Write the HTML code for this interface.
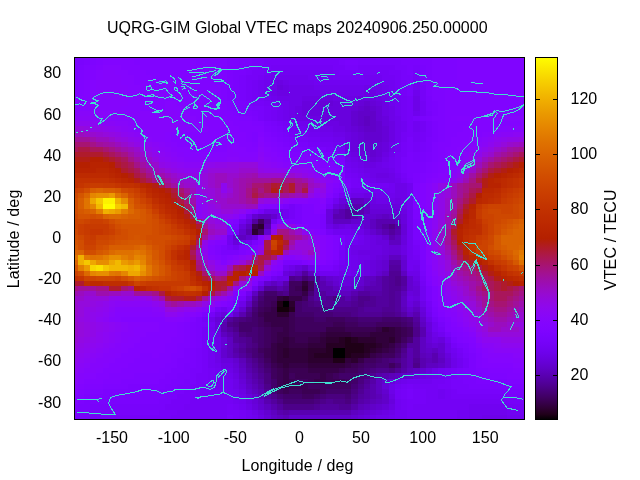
<!DOCTYPE html><html><head><meta charset="utf-8"><style>html,body{margin:0;padding:0;background:#fff;width:640px;height:480px;overflow:hidden}svg{display:block;position:absolute;left:0;top:0}</style></head><body><svg xmlns="http://www.w3.org/2000/svg" width="640" height="480" viewBox="0 0 640 480">
<g shape-rendering="crispEdges"><path fill="#7a03fd" d="M75 58h9v2h-9zM239 58h13v2h-13zM395 58h6v2h-6zM413 58h7v2h-7zM75 60h9v5h-9zM239 60h13v5h-13zM345 60h13v5h-13zM401 60h19v5h-19zM75 65h3v5h-3zM239 65h7v5h-7zM407 65h6v5h-6zM420 65h6v5h-6zM233 70h13v5h-13zM407 70h6v5h-6zM420 70h6v5h-6zM233 75h6v5h-6zM420 75h6v5h-6zM233 80h6v5h-6zM233 85h6v5h-6zM233 90h6v6h-6zM233 96h6v5h-6zM426 96h6v5h-6zM239 101h7v5h-7zM426 101h6v5h-6zM239 106h13v5h-13zM426 106h6v5h-6zM252 111h6v5h-6zM420 116h6v5h-6zM264 121h7v5h-7zM271 126h6v6h-6zM277 132h6v5h-6zM283 137h6v5h-6zM426 137h6v5h-6zM289 142h6v5h-6zM426 142h6v5h-6zM302 147h12v5h-12zM426 147h6v5h-6zM320 152h13v5h-13zM407 152h6v5h-6zM420 152h6v5h-6zM339 157h6v5h-6zM407 157h6v5h-6zM420 157h6v5h-6zM407 162h13v6h-13zM407 168h13v5h-13zM407 173h6v5h-6zM345 183h6v5h-6zM339 188h6v5h-6zM333 193h6v5h-6zM326 198h7v6h-7zM283 204h6v5h-6zM295 204h7v5h-7zM295 209h7v5h-7zM295 214h7v5h-7zM320 214h6v5h-6zM283 219h19v5h-19zM320 219h6v5h-6zM413 219h7v5h-7zM233 224h6v5h-6zM320 224h6v5h-6zM413 224h7v5h-7zM413 229h7v6h-7zM339 235h6v5h-6zM413 235h7v5h-7zM252 240h6v5h-6zM221 245h6v5h-6zM239 245h7v5h-7zM221 250h18v5h-18zM283 260h19v5h-19zM333 260h6v5h-6zM420 260h6v5h-6zM320 265h13v6h-13zM420 265h6v6h-6zM277 271h6v5h-6zM264 276h7v5h-7zM426 286h6v5h-6zM426 291h6v5h-6zM426 296h6v5h-6zM432 312h6v5h-6zM196 317h6v5h-6zM196 322h6v5h-6zM196 327h6v5h-6zM196 332h6v5h-6zM196 337h6v6h-6zM451 337h6v6h-6zM196 343h6v5h-6zM457 343h6v5h-6zM190 348h6v5h-6zM463 348h6v5h-6zM190 353h6v5h-6zM190 358h6v5h-6zM184 363h12v5h-12zM184 368h6v5h-6zM463 368h6v5h-6zM177 373h13v6h-13zM463 373h6v6h-6zM171 379h13v5h-13zM463 379h13v5h-13zM165 384h12v5h-12zM469 384h38v5h-38zM159 389h12v5h-12zM507 389h17v5h-17zM109 394h56v5h-56zM84 399h75v5h-75zM78 404h12v6h-12zM75 410h3v5h-3z"/>
<path fill="#7c03fe" d="M84 58h12v2h-12zM227 58h12v2h-12zM407 58h6v2h-6zM420 58h12v2h-12zM84 60h6v5h-6zM227 60h12v5h-12zM420 60h12v5h-12zM78 65h6v5h-6zM227 65h12v5h-12zM426 65h6v5h-6zM75 70h3v5h-3zM227 70h6v5h-6zM426 70h6v5h-6zM75 75h3v5h-3zM227 75h6v5h-6zM426 75h6v5h-6zM227 80h6v5h-6zM426 80h6v5h-6zM227 85h6v5h-6zM426 85h6v5h-6zM227 90h6v6h-6zM426 90h6v6h-6zM227 96h6v5h-6zM233 101h6v5h-6zM432 101h6v5h-6zM233 106h6v5h-6zM432 106h6v5h-6zM239 111h13v5h-13zM432 111h6v5h-6zM252 116h6v5h-6zM426 116h6v5h-6zM432 121h6v5h-6zM264 126h7v6h-7zM432 126h6v6h-6zM271 132h6v5h-6zM432 132h6v5h-6zM277 137h6v5h-6zM432 137h6v5h-6zM283 142h6v5h-6zM289 147h13v5h-13zM308 152h12v5h-12zM426 152h6v5h-6zM326 157h13v5h-13zM426 157h6v5h-6zM339 162h6v6h-6zM420 162h6v6h-6zM420 168h6v5h-6zM413 173h7v5h-7zM413 178h7v5h-7zM413 209h7v5h-7zM413 214h7v5h-7zM420 240h6v5h-6zM246 245h6v5h-6zM420 245h6v5h-6zM420 250h6v5h-6zM420 255h6v5h-6zM432 307h6v5h-6zM202 312h6v5h-6zM438 317h7v5h-7zM190 322h6v5h-6zM190 327h6v5h-6zM190 332h6v5h-6zM190 337h6v6h-6zM190 343h6v5h-6zM463 343h6v5h-6zM184 348h6v5h-6zM184 353h6v5h-6zM469 353h7v5h-7zM177 358h13v5h-13zM469 358h7v5h-7zM177 363h7v5h-7zM469 363h7v5h-7zM171 368h13v5h-13zM469 368h7v5h-7zM165 373h12v6h-12zM469 373h13v6h-13zM159 379h12v5h-12zM476 379h31v5h-31zM128 384h37v5h-37zM507 384h17v5h-17zM103 389h56v5h-56zM84 394h25v5h-25zM78 399h6v5h-6zM75 404h3v6h-3z"/>
<path fill="#7e04ff" d="M96 58h13v2h-13zM190 58h37v2h-37zM432 58h25v2h-25zM90 60h6v5h-6zM196 60h31v5h-31zM432 60h25v5h-25zM84 65h6v5h-6zM202 65h25v5h-25zM432 65h25v5h-25zM78 70h6v5h-6zM208 70h19v5h-19zM432 70h25v5h-25zM78 75h6v5h-6zM208 75h19v5h-19zM432 75h25v5h-25zM75 80h3v5h-3zM215 80h12v5h-12zM432 80h19v5h-19zM75 85h3v5h-3zM221 85h6v5h-6zM432 85h19v5h-19zM221 90h6v6h-6zM432 90h13v6h-13zM221 96h6v5h-6zM432 96h13v5h-13zM227 101h6v5h-6zM438 101h7v5h-7zM227 106h6v5h-6zM438 106h7v5h-7zM233 111h6v5h-6zM438 111h7v5h-7zM239 116h13v5h-13zM432 116h13v5h-13zM252 121h12v5h-12zM438 121h7v5h-7zM438 126h7v6h-7zM252 132h6v5h-6zM264 132h7v5h-7zM438 132h7v5h-7zM252 137h6v5h-6zM271 137h6v5h-6zM438 137h7v5h-7zM277 142h6v5h-6zM432 142h6v5h-6zM283 147h6v5h-6zM432 147h6v5h-6zM289 152h19v5h-19zM432 152h6v5h-6zM314 157h12v5h-12zM432 157h6v5h-6zM333 162h6v6h-6zM426 162h6v6h-6zM339 168h6v5h-6zM426 168h6v5h-6zM420 173h6v5h-6zM420 178h6v5h-6zM339 183h6v5h-6zM413 183h7v5h-7zM333 188h6v5h-6zM413 188h7v5h-7zM413 193h7v5h-7zM413 198h7v6h-7zM277 204h6v5h-6zM302 204h12v5h-12zM413 204h7v5h-7zM252 209h6v5h-6zM302 209h12v5h-12zM320 209h6v5h-6zM302 214h18v5h-18zM233 219h6v5h-6zM277 219h6v5h-6zM302 219h18v5h-18zM420 219h6v5h-6zM227 224h6v5h-6zM308 224h12v5h-12zM420 224h6v5h-6zM227 229h6v6h-6zM320 229h6v6h-6zM420 229h6v6h-6zM333 235h6v5h-6zM420 235h6v5h-6zM333 240h6v5h-6zM215 245h6v5h-6zM333 245h6v5h-6zM215 250h6v5h-6zM239 250h7v5h-7zM333 250h6v5h-6zM221 255h6v5h-6zM333 255h6v5h-6zM302 260h6v5h-6zM326 260h7v5h-7zM271 271h6v5h-6zM258 276h6v5h-6zM426 281h6v5h-6zM239 291h7v5h-7zM233 296h6v5h-6zM227 301h6v6h-6zM432 301h6v6h-6zM190 317h6v5h-6zM184 322h6v5h-6zM445 322h6v5h-6zM184 327h6v5h-6zM445 327h6v5h-6zM184 332h6v5h-6zM451 332h6v5h-6zM184 337h6v6h-6zM457 337h6v6h-6zM177 343h13v5h-13zM177 348h7v5h-7zM469 348h7v5h-7zM171 353h13v5h-13zM171 358h6v5h-6zM165 363h12v5h-12zM159 368h12v5h-12zM476 368h12v5h-12zM134 373h31v6h-31zM482 373h25v6h-25zM121 379h38v5h-38zM507 379h17v5h-17zM103 384h25v5h-25zM84 389h19v5h-19zM78 394h6v5h-6zM75 399h3v5h-3z"/>
<path fill="#8004ff" d="M109 58h81v2h-81zM457 58h67v2h-67zM96 60h7v5h-7zM134 60h62v5h-62zM457 60h67v5h-67zM90 65h6v5h-6zM140 65h62v5h-62zM457 65h67v5h-67zM84 70h6v5h-6zM146 70h62v5h-62zM457 70h67v5h-67zM84 75h6v5h-6zM152 75h56v5h-56zM457 75h67v5h-67zM78 80h6v5h-6zM159 80h56v5h-56zM451 80h73v5h-73zM78 85h6v5h-6zM159 85h62v5h-62zM451 85h73v5h-73zM75 90h9v6h-9zM184 90h37v6h-37zM445 90h79v6h-79zM75 96h3v5h-3zM196 96h25v5h-25zM445 96h79v5h-79zM202 101h25v5h-25zM445 101h79v5h-79zM208 106h19v5h-19zM445 106h79v5h-79zM215 111h18v5h-18zM445 111h79v5h-79zM227 116h12v5h-12zM445 116h6v5h-6zM233 121h19v5h-19zM445 121h24v5h-24zM239 126h25v6h-25zM445 126h18v6h-18zM246 132h6v5h-6zM445 132h12v5h-12zM246 137h6v5h-6zM264 137h7v5h-7zM445 137h6v5h-6zM252 142h6v5h-6zM271 142h6v5h-6zM438 142h13v5h-13zM277 147h6v5h-6zM438 147h7v5h-7zM283 152h6v5h-6zM438 152h7v5h-7zM302 157h12v5h-12zM438 157h7v5h-7zM320 162h13v6h-13zM432 162h6v6h-6zM333 168h6v5h-6zM432 168h6v5h-6zM339 173h6v5h-6zM426 173h6v5h-6zM420 214h6v5h-6zM426 276h6v5h-6zM252 281h6v5h-6zM432 286h6v5h-6zM432 291h6v5h-6zM432 296h6v5h-6zM438 312h7v5h-7zM445 317h6v5h-6zM177 322h7v5h-7zM177 327h7v5h-7zM451 327h6v5h-6zM177 332h7v5h-7zM457 332h6v5h-6zM171 337h13v6h-13zM463 337h6v6h-6zM165 343h12v5h-12zM469 343h7v5h-7zM165 348h12v5h-12zM140 353h12v5h-12zM159 353h12v5h-12zM476 353h6v5h-6zM134 358h37v5h-37zM476 358h6v5h-6zM128 363h37v5h-37zM476 363h6v5h-6zM121 368h38v5h-38zM488 368h25v5h-25zM109 373h25v6h-25zM507 373h17v6h-17zM103 379h18v5h-18zM84 384h19v5h-19zM78 389h6v5h-6zM75 394h3v5h-3z"/>
<path fill="#7803fb" d="M252 58h12v2h-12zM382 58h7v2h-7zM252 60h12v5h-12zM339 60h6v5h-6zM358 60h43v5h-43zM246 65h12v5h-12zM345 65h13v5h-13zM395 65h12v5h-12zM413 65h7v5h-7zM246 70h6v5h-6zM401 70h6v5h-6zM239 75h7v5h-7zM401 75h12v5h-12zM239 80h7v5h-7zM407 80h6v5h-6zM420 80h6v5h-6zM239 85h7v5h-7zM407 85h6v5h-6zM239 90h7v6h-7zM407 90h6v6h-6zM239 96h7v5h-7zM246 101h6v5h-6zM252 106h12v5h-12zM258 111h6v5h-6zM426 111h6v5h-6zM258 116h6v5h-6zM413 116h7v5h-7zM271 121h6v5h-6zM426 121h6v5h-6zM277 126h6v6h-6zM426 126h6v6h-6zM283 132h6v5h-6zM426 132h6v5h-6zM289 137h6v5h-6zM407 137h6v5h-6zM295 142h13v5h-13zM407 142h6v5h-6zM420 142h6v5h-6zM314 147h12v5h-12zM407 147h6v5h-6zM420 147h6v5h-6zM333 152h12v5h-12zM413 152h7v5h-7zM401 157h6v5h-6zM413 157h7v5h-7zM401 162h6v6h-6zM401 168h6v5h-6zM345 178h6v5h-6zM407 178h6v5h-6zM339 240h6v5h-6zM413 240h7v5h-7zM339 245h6v5h-6zM420 271h6v5h-6zM227 307h6v5h-6zM202 322h6v5h-6zM438 322h7v5h-7zM445 332h6v5h-6zM196 348h6v5h-6zM196 353h6v5h-6zM463 353h6v5h-6zM196 358h6v5h-6zM196 363h6v5h-6zM190 368h12v5h-12zM457 368h6v5h-6zM190 373h6v6h-6zM457 373h6v6h-6zM184 379h12v5h-12zM451 379h12v5h-12zM177 384h13v5h-13zM451 384h18v5h-18zM171 389h13v5h-13zM407 389h6v5h-6zM457 389h50v5h-50zM165 394h12v5h-12zM407 394h6v5h-6zM507 394h17v5h-17zM159 399h12v5h-12zM90 404h75v6h-75zM78 410h81v5h-81zM75 415h15v4h-15zM227 415h6v4h-6z"/>
<path fill="#7703f9" d="M264 58h7v2h-7zM376 58h6v2h-6z"/>
<path fill="#7602f8" d="M271 58h105v2h-105zM264 60h75v5h-75zM258 65h13v5h-13zM333 65h12v5h-12zM358 65h37v5h-37zM252 70h12v5h-12zM339 70h25v5h-25zM389 70h12v5h-12zM413 70h7v5h-7zM246 75h12v5h-12zM395 75h6v5h-6zM246 80h6v5h-6zM401 80h6v5h-6zM246 85h6v5h-6zM401 85h6v5h-6zM420 85h6v5h-6zM246 90h6v6h-6zM401 90h6v6h-6zM420 90h6v6h-6zM246 96h6v5h-6zM407 96h6v5h-6zM420 96h6v5h-6zM252 101h12v5h-12zM407 101h6v5h-6zM264 106h7v5h-7zM407 106h6v5h-6zM264 111h7v5h-7zM407 111h6v5h-6zM264 116h7v5h-7zM407 116h6v5h-6zM277 121h6v5h-6zM407 121h6v5h-6zM283 126h6v6h-6zM407 126h6v6h-6zM289 132h6v5h-6zM407 132h6v5h-6zM420 132h6v5h-6zM295 137h13v5h-13zM420 137h6v5h-6zM308 142h12v5h-12zM401 142h6v5h-6zM413 142h7v5h-7zM326 147h13v5h-13zM401 147h6v5h-6zM413 147h7v5h-7zM401 152h6v5h-6zM345 173h6v5h-6zM401 173h6v5h-6zM351 178h7v5h-7zM351 183h19v5h-19zM345 188h6v5h-6zM289 204h6v5h-6zM326 204h7v5h-7zM258 209h6v5h-6zM289 209h6v5h-6zM289 214h6v5h-6zM233 229h6v6h-6zM326 229h7v6h-7zM345 235h13v5h-13zM227 245h6v5h-6zM413 245h7v5h-7zM339 250h6v5h-6zM413 250h7v5h-7zM339 255h6v5h-6zM314 265h6v6h-6zM333 265h6v6h-6zM420 276h6v5h-6zM239 296h7v5h-7zM233 301h6v6h-6zM426 301h6v6h-6zM215 307h6v5h-6zM208 312h7v5h-7zM202 317h6v5h-6zM432 317h6v5h-6zM202 327h6v5h-6zM438 327h7v5h-7zM202 332h6v5h-6zM202 337h6v6h-6zM202 343h6v5h-6zM451 343h6v5h-6zM202 348h6v5h-6zM457 348h6v5h-6zM202 353h6v5h-6zM202 358h6v5h-6zM463 358h6v5h-6zM202 363h6v5h-6zM463 363h6v5h-6zM202 368h6v5h-6zM451 368h6v5h-6zM196 373h12v6h-12zM451 373h6v6h-6zM196 379h12v5h-12zM445 379h6v5h-6zM190 384h12v5h-12zM407 384h6v5h-6zM438 384h13v5h-13zM184 389h12v5h-12zM401 389h6v5h-6zM413 389h13v5h-13zM451 389h6v5h-6zM177 394h19v5h-19zM401 394h6v5h-6zM413 394h13v5h-13zM451 394h56v5h-56zM171 399h19v5h-19zM407 399h19v5h-19zM507 399h17v5h-17zM165 404h19v6h-19zM227 404h6v6h-6zM407 404h6v6h-6zM159 410h18v5h-18zM227 410h12v5h-12zM90 415h81v4h-81zM233 415h6v4h-6z"/>
<path fill="#7903fc" d="M389 58h6v2h-6z"/>
<path fill="#7b03fd" d="M401 58h6v2h-6z"/>
<path fill="#8204ff" d="M103 60h31v5h-31zM96 65h7v5h-7zM121 65h19v5h-19zM90 70h6v5h-6zM128 70h18v5h-18zM90 75h6v5h-6zM134 75h18v5h-18zM84 80h6v5h-6zM134 80h25v5h-25zM84 85h6v5h-6zM140 85h19v5h-19zM84 90h6v6h-6zM140 90h44v6h-44zM78 96h12v5h-12zM140 96h56v5h-56zM75 101h9v5h-9zM140 101h25v5h-25zM177 101h25v5h-25zM140 106h25v5h-25zM184 106h24v5h-24zM190 111h25v5h-25zM196 116h31v5h-31zM457 116h31v5h-31zM202 121h31v5h-31zM469 121h55v5h-55zM208 126h31v6h-31zM463 126h31v6h-31zM171 132h56v5h-56zM233 132h13v5h-13zM258 132h6v5h-6zM457 132h25v5h-25zM171 137h56v5h-56zM233 137h13v5h-13zM451 137h18v5h-18zM177 142h50v5h-50zM239 142h13v5h-13zM264 142h7v5h-7zM451 142h12v5h-12zM190 147h37v5h-37zM246 147h12v5h-12zM271 147h6v5h-6zM445 147h12v5h-12zM277 152h6v5h-6zM445 152h6v5h-6zM283 157h19v5h-19zM445 157h6v5h-6zM314 162h6v6h-6zM438 162h7v6h-7zM326 168h7v5h-7zM438 168h7v5h-7zM333 173h6v5h-6zM432 173h6v5h-6zM339 178h6v5h-6zM426 178h6v5h-6zM333 183h6v5h-6zM420 183h6v5h-6zM420 188h6v5h-6zM326 193h7v5h-7zM420 193h6v5h-6zM308 198h12v6h-12zM420 198h6v6h-6zM264 204h13v5h-13zM314 204h12v5h-12zM420 204h6v5h-6zM314 209h6v5h-6zM420 209h6v5h-6zM239 214h7v5h-7zM227 219h6v5h-6zM302 224h6v5h-6zM314 229h6v6h-6zM258 235h6v5h-6zM326 235h7v5h-7zM215 240h12v5h-12zM258 240h6v5h-6zM326 240h7v5h-7zM208 245h7v5h-7zM252 245h6v5h-6zM326 245h7v5h-7zM208 250h7v5h-7zM246 250h6v5h-6zM326 250h7v5h-7zM215 255h6v5h-6zM227 255h6v5h-6zM326 255h7v5h-7zM221 260h6v5h-6zM308 260h18v5h-18zM277 265h6v6h-6zM426 265h6v6h-6zM426 271h6v5h-6zM233 291h6v5h-6zM221 301h6v6h-6zM208 307h7v5h-7zM438 307h7v5h-7zM196 312h6v5h-6zM121 317h44v5h-44zM184 317h6v5h-6zM159 322h18v5h-18zM451 322h6v5h-6zM159 327h18v5h-18zM457 327h6v5h-6zM146 332h31v5h-31zM463 332h6v5h-6zM140 337h31v6h-31zM469 337h7v6h-7zM134 343h31v5h-31zM128 348h37v5h-37zM476 348h6v5h-6zM121 353h19v5h-19zM152 353h7v5h-7zM115 358h19v5h-19zM482 358h6v5h-6zM109 363h19v5h-19zM482 363h31v5h-31zM103 368h18v5h-18zM513 368h11v5h-11zM96 373h13v6h-13zM84 379h19v5h-19zM78 384h6v5h-6zM75 389h3v5h-3z"/>
<path fill="#8405fe" d="M103 65h18v5h-18zM96 70h7v5h-7zM115 70h13v5h-13zM96 75h7v5h-7zM121 75h13v5h-13zM90 80h6v5h-6zM121 80h13v5h-13zM90 85h6v5h-6zM128 85h12v5h-12zM90 90h6v6h-6zM128 90h12v6h-12zM90 96h6v5h-6zM128 96h12v5h-12zM84 101h12v5h-12zM128 101h12v5h-12zM165 101h12v5h-12zM75 106h15v5h-15zM121 106h19v5h-19zM165 106h19v5h-19zM177 111h13v5h-13zM184 116h12v5h-12zM190 121h12v5h-12zM190 126h18v6h-18zM494 126h13v6h-13zM165 132h6v5h-6zM227 132h6v5h-6zM482 132h6v5h-6zM165 137h6v5h-6zM227 137h6v5h-6zM258 137h6v5h-6zM469 137h7v5h-7zM171 142h6v5h-6zM227 142h12v5h-12zM463 142h6v5h-6zM177 147h13v5h-13zM233 147h13v5h-13zM264 147h7v5h-7zM457 147h6v5h-6zM184 152h43v5h-43zM239 152h19v5h-19zM271 152h6v5h-6zM451 152h6v5h-6zM277 157h6v5h-6zM451 157h6v5h-6zM308 162h6v6h-6zM445 162h6v6h-6zM320 168h6v5h-6zM445 168h6v5h-6zM438 173h7v5h-7zM432 178h6v5h-6zM426 260h6v5h-6zM438 301h7v6h-7zM115 312h37v5h-37zM445 312h6v5h-6zM115 317h6v5h-6zM177 317h7v5h-7zM451 317h6v5h-6zM140 322h19v5h-19zM134 327h25v5h-25zM134 332h12v5h-12zM128 337h12v6h-12zM121 343h13v5h-13zM121 348h7v5h-7zM115 353h6v5h-6zM482 353h6v5h-6zM109 358h6v5h-6zM488 358h25v5h-25zM103 363h6v5h-6zM513 363h11v5h-11zM96 368h7v5h-7zM84 373h12v6h-12zM78 379h6v5h-6z"/>
<path fill="#7402f5" d="M271 65h62v5h-62zM264 70h7v5h-7zM333 70h6v5h-6zM364 70h25v5h-25zM258 75h6v5h-6zM333 75h31v5h-31zM382 75h13v5h-13zM413 75h7v5h-7zM252 80h6v5h-6zM395 80h6v5h-6zM252 85h6v5h-6zM395 85h6v5h-6zM252 90h6v6h-6zM395 90h6v6h-6zM252 96h12v5h-12zM401 96h6v5h-6zM264 101h7v5h-7zM401 101h6v5h-6zM420 101h6v5h-6zM271 106h6v5h-6zM401 106h6v5h-6zM420 106h6v5h-6zM271 111h6v5h-6zM401 111h6v5h-6zM420 111h6v5h-6zM271 116h6v5h-6zM401 116h6v5h-6zM283 121h6v5h-6zM420 121h6v5h-6zM289 126h6v6h-6zM420 126h6v6h-6zM295 132h13v5h-13zM401 132h6v5h-6zM413 132h7v5h-7zM308 137h12v5h-12zM401 137h6v5h-6zM413 137h7v5h-7zM320 142h13v5h-13zM339 147h6v5h-6zM395 152h6v5h-6zM395 157h6v5h-6zM395 162h6v6h-6zM345 168h6v5h-6zM395 168h6v5h-6zM351 173h7v5h-7zM358 178h6v5h-6zM401 178h6v5h-6zM370 183h19v5h-19zM345 240h6v5h-6zM413 255h7v5h-7zM339 260h6v5h-6zM420 281h6v5h-6zM426 307h6v5h-6zM457 353h6v5h-6zM208 368h7v5h-7zM445 368h6v5h-6zM208 373h7v6h-7zM445 373h6v6h-6zM208 379h7v5h-7zM432 379h13v5h-13zM202 384h13v5h-13zM401 384h6v5h-6zM413 384h25v5h-25zM196 389h31v5h-31zM395 389h6v5h-6zM426 389h12v5h-12zM445 389h6v5h-6zM196 394h37v5h-37zM395 394h6v5h-6zM426 394h12v5h-12zM445 394h6v5h-6zM190 399h43v5h-43zM401 399h6v5h-6zM426 399h81v5h-81zM184 404h43v6h-43zM233 404h6v6h-6zM401 404h6v6h-6zM413 404h56v6h-56zM507 404h17v6h-17zM177 410h50v5h-50zM239 410h7v5h-7zM407 410h50v5h-50zM171 415h56v4h-56zM239 415h7v4h-7zM407 415h50v4h-50z"/>
<path fill="#8505fc" d="M103 70h12v5h-12zM103 75h18v5h-18zM96 80h25v5h-25zM96 85h32v5h-32zM96 90h32v6h-32zM96 96h32v5h-32zM96 101h32v5h-32zM90 106h31v5h-31zM75 111h3v5h-3zM115 111h62v5h-62zM109 116h75v5h-75zM128 121h62v5h-62zM134 126h56v6h-56zM507 126h17v6h-17zM146 132h19v5h-19zM488 132h6v5h-6zM152 137h13v5h-13zM476 137h6v5h-6zM165 142h6v5h-6zM258 142h6v5h-6zM469 142h7v5h-7zM171 147h6v5h-6zM227 147h6v5h-6zM463 147h6v5h-6zM177 152h7v5h-7zM227 152h12v5h-12zM264 152h7v5h-7zM457 152h6v5h-6zM184 157h43v5h-43zM239 157h19v5h-19zM271 157h6v5h-6zM457 157h6v5h-6zM283 162h25v6h-25zM451 162h6v6h-6zM314 168h6v5h-6zM326 173h7v5h-7zM445 173h6v5h-6zM333 178h6v5h-6zM438 178h7v5h-7zM326 183h7v5h-7zM426 183h6v5h-6zM326 188h7v5h-7zM426 188h6v5h-6zM426 193h6v5h-6zM289 198h19v6h-19zM320 198h6v6h-6zM426 198h6v6h-6zM258 204h6v5h-6zM426 204h6v5h-6zM246 209h6v5h-6zM426 209h6v5h-6zM426 214h6v5h-6zM426 219h6v5h-6zM271 224h6v5h-6zM295 224h7v5h-7zM426 224h6v5h-6zM308 229h6v6h-6zM426 229h6v6h-6zM320 235h6v5h-6zM426 235h6v5h-6zM208 240h7v5h-7zM320 240h6v5h-6zM426 240h6v5h-6zM320 245h6v5h-6zM426 245h6v5h-6zM252 250h6v5h-6zM320 250h6v5h-6zM426 250h6v5h-6zM208 255h7v5h-7zM233 255h6v5h-6zM283 255h12v5h-12zM320 255h6v5h-6zM426 255h6v5h-6zM277 260h6v5h-6zM271 265h6v6h-6zM264 271h7v5h-7zM252 276h6v5h-6zM432 276h6v5h-6zM432 281h6v5h-6zM438 286h7v5h-7zM438 291h7v5h-7zM227 296h6v5h-6zM438 296h7v5h-7zM215 301h6v6h-6zM115 307h37v5h-37zM202 307h6v5h-6zM445 307h6v5h-6zM152 312h13v5h-13zM184 312h12v5h-12zM451 312h6v5h-6zM109 317h6v5h-6zM165 317h12v5h-12zM128 322h12v5h-12zM457 322h6v5h-6zM128 327h6v5h-6zM463 327h6v5h-6zM121 332h13v5h-13zM469 332h7v5h-7zM121 337h7v6h-7zM115 343h6v5h-6zM476 343h6v5h-6zM109 348h12v5h-12zM482 348h6v5h-6zM103 353h12v5h-12zM488 353h25v5h-25zM96 358h13v5h-13zM513 358h11v5h-11zM90 363h13v5h-13zM84 368h12v5h-12zM78 373h6v6h-6zM75 384h3v5h-3z"/>
<path fill="#7102f1" d="M271 70h62v5h-62zM264 75h7v5h-7zM308 75h25v5h-25zM364 75h18v5h-18zM258 80h6v5h-6zM314 80h56v5h-56zM382 80h13v5h-13zM413 80h7v5h-7zM258 85h6v5h-6zM389 85h6v5h-6zM413 85h7v5h-7zM258 90h6v6h-6zM389 90h6v6h-6zM264 96h7v5h-7zM395 96h6v5h-6zM271 101h6v5h-6zM395 101h6v5h-6zM277 106h6v5h-6zM395 106h6v5h-6zM277 111h6v5h-6zM395 111h6v5h-6zM277 116h6v5h-6zM289 121h6v5h-6zM401 121h6v5h-6zM413 121h7v5h-7zM295 126h13v6h-13zM401 126h6v6h-6zM413 126h7v6h-7zM308 132h12v5h-12zM320 137h13v5h-13zM333 142h12v5h-12zM395 142h6v5h-6zM395 147h6v5h-6zM389 157h6v5h-6zM345 162h6v6h-6zM389 162h6v6h-6zM351 168h7v5h-7zM358 173h6v5h-6zM395 173h6v5h-6zM364 178h6v5h-6zM389 183h6v5h-6zM407 183h6v5h-6zM351 188h44v5h-44zM407 188h6v5h-6zM339 193h12v5h-12zM407 193h6v5h-6zM333 198h6v6h-6zM407 198h6v6h-6zM407 204h6v5h-6zM283 209h6v5h-6zM407 209h6v5h-6zM246 214h6v5h-6zM283 214h6v5h-6zM407 214h6v5h-6zM239 219h7v5h-7zM271 219h6v5h-6zM407 219h6v5h-6zM407 224h6v5h-6zM333 229h18v6h-18zM407 229h6v6h-6zM227 235h6v5h-6zM358 235h6v5h-6zM407 235h6v5h-6zM227 240h6v5h-6zM246 240h6v5h-6zM351 240h7v5h-7zM407 240h6v5h-6zM233 245h6v5h-6zM345 245h6v5h-6zM407 245h6v5h-6zM345 250h6v5h-6zM407 250h6v5h-6zM345 255h6v5h-6zM407 255h6v5h-6zM345 260h6v5h-6zM407 260h13v5h-13zM283 265h6v6h-6zM339 265h12v6h-12zM407 265h6v6h-6zM320 271h19v5h-19zM345 271h6v5h-6zM271 276h6v5h-6zM258 281h6v5h-6zM252 286h6v5h-6zM420 286h6v5h-6zM246 291h6v5h-6zM420 291h6v5h-6zM420 296h6v5h-6zM221 307h6v5h-6zM227 312h6v5h-6zM426 312h6v5h-6zM208 322h7v5h-7zM432 322h6v5h-6zM432 327h6v5h-6zM208 332h7v5h-7zM438 332h7v5h-7zM208 337h7v6h-7zM445 337h6v6h-6zM208 343h7v5h-7zM208 348h7v5h-7zM451 348h6v5h-6zM208 353h7v5h-7zM208 358h7v5h-7zM457 358h6v5h-6zM208 363h7v5h-7zM457 363h6v5h-6zM215 368h6v5h-6zM438 368h7v5h-7zM215 373h6v6h-6zM438 373h7v6h-7zM215 379h18v5h-18zM407 379h25v5h-25zM215 384h18v5h-18zM395 384h6v5h-6zM227 389h6v5h-6zM438 389h7v5h-7zM233 394h6v5h-6zM438 394h7v5h-7zM233 399h6v5h-6zM395 399h6v5h-6zM239 404h7v6h-7zM395 404h6v6h-6zM469 404h38v6h-38zM246 410h6v5h-6zM395 410h12v5h-12zM457 410h12v5h-12zM507 410h17v5h-17zM246 415h6v4h-6zM395 415h12v4h-12zM457 415h12v4h-12z"/>
<path fill="#6f02ed" d="M271 75h37v5h-37zM264 80h7v5h-7zM289 80h25v5h-25zM370 80h12v5h-12zM264 85h7v5h-7zM314 85h50v5h-50zM382 85h7v5h-7zM264 90h7v6h-7zM382 90h7v6h-7zM413 90h7v6h-7zM271 96h6v5h-6zM389 96h6v5h-6zM277 101h12v5h-12zM389 101h6v5h-6zM283 106h6v5h-6zM283 111h6v5h-6zM413 111h7v5h-7zM283 116h6v5h-6zM395 116h6v5h-6zM295 121h13v5h-13zM395 121h6v5h-6zM308 126h12v6h-12zM395 126h6v6h-6zM320 132h13v5h-13zM395 132h6v5h-6zM333 137h12v5h-12zM395 137h6v5h-6zM389 152h6v5h-6zM345 157h6v5h-6zM351 162h7v6h-7zM382 162h7v6h-7zM358 168h6v5h-6zM389 168h6v5h-6zM364 173h6v5h-6zM370 178h6v5h-6zM395 178h6v5h-6zM376 193h19v5h-19zM351 229h7v6h-7zM358 240h6v5h-6zM351 255h7v5h-7zM351 260h7v5h-7zM351 265h7v6h-7zM413 265h7v6h-7zM351 271h7v5h-7zM208 327h7v5h-7zM451 353h6v5h-6zM215 363h6v5h-6zM221 373h12v6h-12zM432 373h6v6h-6zM401 379h6v5h-6zM233 389h6v5h-6zM239 399h7v5h-7zM469 410h38v5h-38zM252 415h6v4h-6zM389 415h6v4h-6zM469 415h13v4h-13zM507 415h17v4h-17z"/>
<path fill="#6d02e8" d="M271 80h6v5h-6zM283 80h6v5h-6zM271 85h6v5h-6zM289 85h25v5h-25zM364 85h18v5h-18zM271 90h6v6h-6zM289 90h75v6h-75zM376 90h6v6h-6zM277 96h25v5h-25zM382 96h7v5h-7zM413 96h7v5h-7zM289 101h13v5h-13zM413 101h7v5h-7zM289 106h6v5h-6zM389 106h6v5h-6zM413 106h7v5h-7zM289 111h6v5h-6zM389 111h6v5h-6zM289 116h6v5h-6zM389 116h6v5h-6zM308 121h12v5h-12zM320 126h13v6h-13zM333 132h12v5h-12zM389 142h6v5h-6zM389 147h6v5h-6zM345 152h6v5h-6zM351 157h7v5h-7zM382 157h7v5h-7zM358 162h6v6h-6zM376 162h6v6h-6zM364 168h25v5h-25zM370 173h6v5h-6zM389 173h6v5h-6zM376 178h19v5h-19zM395 183h12v5h-12zM395 188h12v5h-12zM351 193h13v5h-13zM370 193h6v5h-6zM395 193h12v5h-12zM376 198h19v6h-19zM401 198h6v6h-6zM401 204h6v5h-6zM264 209h19v5h-19zM277 214h6v5h-6zM326 224h7v5h-7zM345 224h6v5h-6zM358 229h6v6h-6zM364 235h6v5h-6zM239 240h7v5h-7zM364 240h6v5h-6zM351 245h19v5h-19zM351 250h7v5h-7zM358 255h12v5h-12zM358 260h6v5h-6zM289 265h6v6h-6zM308 265h6v6h-6zM358 265h6v6h-6zM314 271h6v5h-6zM339 271h6v5h-6zM358 271h6v5h-6zM407 271h13v5h-13zM277 276h12v5h-12zM239 301h7v6h-7zM420 301h6v6h-6zM233 307h6v5h-6zM215 312h6v5h-6zM208 317h7v5h-7zM426 317h6v5h-6zM432 332h6v5h-6zM215 337h6v6h-6zM215 343h6v5h-6zM445 343h6v5h-6zM215 348h6v5h-6zM445 348h6v5h-6zM215 353h6v5h-6zM215 358h6v5h-6zM451 358h6v5h-6zM451 363h6v5h-6zM221 368h12v5h-12zM432 368h6v5h-6zM426 373h6v6h-6zM233 379h6v5h-6zM395 379h6v5h-6zM233 384h6v5h-6zM389 384h6v5h-6zM389 389h6v5h-6zM239 394h7v5h-7zM246 404h6v6h-6zM252 410h6v5h-6zM389 410h6v5h-6zM376 415h13v4h-13zM482 415h25v4h-25z"/>
<path fill="#6b01e3" d="M277 80h6v5h-6zM283 85h6v5h-6zM277 90h12v6h-12zM364 90h12v6h-12zM302 96h18v5h-18zM333 96h25v5h-25zM376 96h6v5h-6zM345 101h6v5h-6zM382 101h7v5h-7zM295 106h7v5h-7zM382 106h7v5h-7zM295 111h7v5h-7zM382 111h7v5h-7zM295 116h25v5h-25zM320 121h19v5h-19zM389 121h6v5h-6zM333 126h12v6h-12zM389 126h6v6h-6zM345 132h6v5h-6zM389 132h6v5h-6zM345 137h6v5h-6zM389 137h6v5h-6zM345 142h6v5h-6zM345 147h6v5h-6zM351 152h7v5h-7zM382 152h7v5h-7zM358 157h6v5h-6zM364 162h12v6h-12zM376 173h13v5h-13zM364 193h6v5h-6zM370 198h6v6h-6zM395 198h6v6h-6zM401 209h6v5h-6zM339 224h6v5h-6zM351 224h7v5h-7zM370 235h6v5h-6zM370 240h6v5h-6zM370 245h12v5h-12zM401 245h6v5h-6zM358 250h24v5h-24zM401 250h6v5h-6zM370 255h6v5h-6zM364 260h6v5h-6zM364 265h6v6h-6zM364 271h6v5h-6zM413 276h7v5h-7zM407 296h6v5h-6zM215 332h6v5h-6zM432 337h6v6h-6zM221 363h12v5h-12zM233 373h6v6h-6zM420 373h6v6h-6zM239 389h7v5h-7zM389 394h6v5h-6zM246 399h6v5h-6zM389 404h6v6h-6zM382 410h7v5h-7zM258 415h6v4h-6zM370 415h6v4h-6z"/>
<path fill="#6801dd" d="M277 85h6v5h-6zM320 96h13v5h-13zM358 96h18v5h-18zM302 101h18v5h-18zM333 101h12v5h-12zM351 101h7v5h-7zM376 101h6v5h-6zM302 106h49v5h-49zM302 111h49v5h-49zM320 116h31v5h-31zM382 116h7v5h-7zM339 121h12v5h-12zM382 121h7v5h-7zM345 126h6v6h-6zM351 132h7v5h-7zM351 137h7v5h-7zM351 142h7v5h-7zM382 142h7v5h-7zM351 147h7v5h-7zM382 147h7v5h-7zM358 152h6v5h-6zM364 157h6v5h-6zM376 157h6v5h-6zM339 198h12v6h-12zM333 204h6v5h-6zM370 204h31v5h-31zM326 209h7v5h-7zM326 214h7v5h-7zM401 214h6v5h-6zM246 219h6v5h-6zM326 219h7v5h-7zM401 219h6v5h-6zM239 224h7v5h-7zM333 224h6v5h-6zM358 224h6v5h-6zM364 229h6v6h-6zM252 235h6v5h-6zM376 235h6v5h-6zM401 235h6v5h-6zM233 240h6v5h-6zM376 240h13v5h-13zM401 240h6v5h-6zM382 245h7v5h-7zM382 250h7v5h-7zM376 255h6v5h-6zM370 260h6v5h-6zM295 265h7v6h-7zM370 265h6v6h-6zM283 271h6v5h-6zM370 271h6v5h-6zM339 276h19v5h-19zM339 281h12v5h-12zM413 281h7v5h-7zM407 291h6v5h-6zM246 296h6v5h-6zM413 296h7v5h-7zM407 301h6v6h-6zM420 307h6v5h-6zM221 312h6v5h-6zM215 322h6v5h-6zM426 322h6v5h-6zM215 327h6v5h-6zM426 327h6v5h-6zM438 337h7v6h-7zM445 353h6v5h-6zM221 358h12v5h-12zM233 368h6v5h-6zM426 368h6v5h-6zM413 373h7v6h-7zM389 379h6v5h-6zM239 384h7v5h-7zM246 394h6v5h-6zM389 399h6v5h-6zM252 404h6v6h-6zM258 410h6v5h-6zM376 410h6v5h-6zM364 415h6v4h-6z"/>
<path fill="#6601d7" d="M320 101h13v5h-13zM358 101h6v5h-6zM370 101h6v5h-6zM351 106h7v5h-7zM376 106h6v5h-6zM376 111h6v5h-6zM376 116h6v5h-6zM351 126h7v6h-7zM382 126h7v6h-7zM358 132h6v5h-6zM382 132h7v5h-7zM358 137h6v5h-6zM382 137h7v5h-7zM358 142h6v5h-6zM376 142h6v5h-6zM358 147h6v5h-6zM376 147h6v5h-6zM364 152h6v5h-6zM376 152h6v5h-6zM370 157h6v5h-6zM370 209h31v5h-31zM401 224h6v5h-6zM401 229h6v6h-6zM389 245h12v5h-12zM389 250h12v5h-12zM382 255h7v5h-7zM401 255h6v5h-6zM376 260h6v5h-6zM376 265h6v6h-6zM333 276h6v5h-6zM351 281h7v5h-7zM413 286h7v5h-7zM413 291h7v5h-7zM420 312h6v5h-6zM215 317h6v5h-6zM426 332h6v5h-6zM221 337h6v6h-6zM426 337h6v6h-6zM221 343h6v5h-6zM432 343h6v5h-6zM445 358h6v5h-6zM233 363h6v5h-6zM445 363h6v5h-6zM239 379h7v5h-7zM382 384h7v5h-7zM252 399h6v5h-6zM382 404h7v6h-7zM370 410h6v5h-6zM264 415h7v4h-7zM358 415h6v4h-6z"/>
<path fill="#6301d0" d="M364 101h6v5h-6zM358 106h6v5h-6zM370 106h6v5h-6zM351 111h7v5h-7zM351 116h7v5h-7zM351 121h7v5h-7zM376 121h6v5h-6zM358 126h6v6h-6zM376 126h6v6h-6zM364 132h18v5h-18zM364 137h18v5h-18zM364 142h12v5h-12zM364 147h12v5h-12zM370 152h6v5h-6zM364 198h6v6h-6zM339 204h6v5h-6zM252 214h6v5h-6zM271 214h6v5h-6zM364 214h12v5h-12zM395 214h6v5h-6zM351 219h19v5h-19zM364 224h6v5h-6zM239 229h7v6h-7zM264 229h7v6h-7zM370 229h6v6h-6zM233 235h6v5h-6zM246 235h6v5h-6zM382 235h7v5h-7zM382 260h7v5h-7zM401 260h6v5h-6zM302 265h6v6h-6zM382 265h7v6h-7zM401 265h6v6h-6zM289 271h6v5h-6zM376 271h6v5h-6zM326 276h7v5h-7zM358 276h6v5h-6zM407 276h6v5h-6zM264 281h7v5h-7zM277 281h6v5h-6zM333 281h6v5h-6zM358 281h6v5h-6zM407 281h6v5h-6zM258 286h6v5h-6zM339 286h12v5h-12zM407 286h6v5h-6zM413 301h7v6h-7zM239 307h7v5h-7zM407 307h6v5h-6zM233 312h6v5h-6zM426 343h6v5h-6zM438 343h7v5h-7zM221 348h6v5h-6zM438 348h7v5h-7zM221 353h6v5h-6zM233 358h6v5h-6zM420 368h6v5h-6zM239 373h7v6h-7zM407 373h6v6h-6zM382 379h7v5h-7zM246 389h6v5h-6zM382 389h7v5h-7zM252 394h6v5h-6zM258 404h6v6h-6zM376 404h6v6h-6zM264 410h7v5h-7zM364 410h6v5h-6zM351 415h7v4h-7z"/>
<path fill="#6101c9" d="M364 106h6v5h-6zM358 111h18v5h-18zM358 116h6v5h-6zM370 116h6v5h-6zM358 121h6v5h-6zM370 121h6v5h-6zM364 126h12v6h-12zM376 214h6v5h-6zM389 214h6v5h-6zM351 286h7v5h-7zM420 317h6v5h-6zM426 348h6v5h-6zM438 353h7v5h-7zM438 363h7v5h-7zM239 368h7v5h-7zM401 373h6v6h-6zM246 384h6v5h-6zM382 394h7v5h-7zM258 399h6v5h-6zM382 399h7v5h-7zM370 404h6v6h-6zM358 410h6v5h-6zM271 415h6v4h-6zM289 415h62v4h-62z"/>
<path fill="#8706fa" d="M78 111h37v5h-37zM96 116h13v5h-13zM115 121h13v5h-13zM128 126h6v6h-6zM140 132h6v5h-6zM494 132h7v5h-7zM146 137h6v5h-6zM482 137h6v5h-6zM159 142h6v5h-6zM476 142h6v5h-6zM165 147h6v5h-6zM258 147h6v5h-6zM469 147h7v5h-7zM171 152h6v5h-6zM463 152h6v5h-6zM177 157h7v5h-7zM227 157h12v5h-12zM264 157h7v5h-7zM277 162h6v6h-6zM451 168h6v5h-6zM320 173h6v5h-6zM445 178h6v5h-6zM432 271h6v5h-6zM445 301h6v6h-6zM152 307h7v5h-7zM451 307h6v5h-6zM109 312h6v5h-6zM457 317h6v5h-6zM121 322h7v5h-7zM121 327h7v5h-7zM115 332h6v5h-6zM115 337h6v6h-6zM109 343h6v5h-6zM103 348h6v5h-6zM488 348h6v5h-6zM96 353h7v5h-7zM513 353h11v5h-11zM90 358h6v5h-6zM84 363h6v5h-6zM78 368h6v5h-6zM75 379h3v5h-3z"/>
<path fill="#8906f7" d="M75 116h21v5h-21zM103 121h12v5h-12zM121 126h7v6h-7zM134 132h6v5h-6zM501 132h12v5h-12zM140 137h6v5h-6zM488 137h6v5h-6zM152 142h7v5h-7zM482 142h6v5h-6zM159 147h6v5h-6zM165 152h6v5h-6zM258 152h6v5h-6zM171 157h6v5h-6zM463 157h6v5h-6zM184 162h18v6h-18zM271 162h6v6h-6zM457 162h6v6h-6zM308 168h6v5h-6zM314 173h6v5h-6zM451 173h6v5h-6zM326 178h7v5h-7zM432 183h6v5h-6zM432 188h6v5h-6zM314 193h6v5h-6zM432 193h6v5h-6zM283 198h6v6h-6zM432 198h6v6h-6zM196 204h6v5h-6zM196 209h6v5h-6zM196 214h6v5h-6zM233 214h6v5h-6zM221 235h6v5h-6zM314 235h6v5h-6zM314 240h6v5h-6zM258 245h6v5h-6zM239 255h7v5h-7zM295 255h7v5h-7zM215 260h6v5h-6zM227 260h6v5h-6zM432 260h6v5h-6zM432 265h6v6h-6zM438 276h7v5h-7zM438 281h7v5h-7zM239 286h13v5h-13zM445 296h6v5h-6zM115 301h37v6h-37zM451 301h6v6h-6zM109 307h6v5h-6zM159 307h6v5h-6zM196 307h6v5h-6zM177 312h7v5h-7zM457 312h6v5h-6zM103 317h6v5h-6zM115 322h6v5h-6zM463 322h6v5h-6zM115 327h6v5h-6zM469 327h7v5h-7zM109 332h6v5h-6zM109 337h6v6h-6zM476 337h6v6h-6zM103 343h6v5h-6zM482 343h12v5h-12zM96 348h7v5h-7zM494 348h30v5h-30zM90 353h6v5h-6zM84 358h6v5h-6zM78 363h6v5h-6zM75 373h3v6h-3z"/>
<path fill="#5e01c1" d="M364 116h6v5h-6zM364 121h6v5h-6zM351 198h13v6h-13zM345 204h6v5h-6zM364 204h6v5h-6zM333 209h6v5h-6zM364 209h6v5h-6zM258 214h13v5h-13zM358 214h6v5h-6zM382 214h7v5h-7zM333 219h18v5h-18zM370 219h6v5h-6zM395 219h6v5h-6zM246 224h6v5h-6zM370 224h6v5h-6zM376 229h6v6h-6zM239 235h7v5h-7zM395 235h6v5h-6zM389 240h12v5h-12zM389 255h12v5h-12zM295 271h7v5h-7zM308 271h6v5h-6zM382 271h7v5h-7zM401 271h6v5h-6zM320 276h6v5h-6zM364 276h12v5h-12zM271 281h6v5h-6zM326 281h7v5h-7zM364 281h6v5h-6zM333 286h6v5h-6zM358 286h6v5h-6zM252 291h6v5h-6zM339 291h12v5h-12zM401 296h6v5h-6zM246 301h6v6h-6zM401 301h6v6h-6zM413 307h7v5h-7zM407 312h6v5h-6zM221 317h6v5h-6zM420 322h6v5h-6zM221 332h6v5h-6zM227 337h6v6h-6zM420 337h6v6h-6zM227 343h6v5h-6zM420 343h6v5h-6zM227 348h6v5h-6zM420 348h6v5h-6zM432 348h6v5h-6zM227 353h6v5h-6zM426 353h6v5h-6zM438 358h7v5h-7zM239 363h7v5h-7zM426 363h12v5h-12zM413 368h7v5h-7zM395 373h6v6h-6zM246 379h6v5h-6zM376 379h6v5h-6zM376 384h6v5h-6zM252 389h6v5h-6zM376 389h6v5h-6zM376 399h6v5h-6zM264 404h7v6h-7zM364 404h6v6h-6zM271 410h6v5h-6zM351 410h7v5h-7zM277 415h6v4h-6z"/>
<path fill="#8104ff" d="M451 116h6v5h-6z"/>
<path fill="#8205fe" d="M488 116h6v5h-6z"/>
<path fill="#8305fe" d="M494 116h30v5h-30z"/>
<path fill="#8d07f0" d="M75 121h15v5h-15zM109 126h6v6h-6zM121 132h7v5h-7zM134 137h6v5h-6zM494 137h7v5h-7zM140 142h6v5h-6zM488 142h6v5h-6zM159 157h6v5h-6zM171 162h6v6h-6zM202 162h6v6h-6zM258 162h6v6h-6zM463 162h6v6h-6zM184 168h18v5h-18zM277 168h25v5h-25zM308 173h6v5h-6zM320 178h6v5h-6zM451 178h6v5h-6zM221 183h6v5h-6zM221 188h6v5h-6zM314 188h6v5h-6zM196 193h6v5h-6zM320 193h6v5h-6zM196 198h6v6h-6zM202 204h6v5h-6zM202 209h6v5h-6zM239 209h7v5h-7zM202 214h31v5h-31zM302 229h6v6h-6zM432 229h6v6h-6zM432 235h6v5h-6zM432 240h6v5h-6zM202 245h6v5h-6zM314 245h6v5h-6zM432 245h6v5h-6zM202 250h6v5h-6zM246 255h6v5h-6zM302 255h6v5h-6zM314 255h6v5h-6zM233 260h6v5h-6zM271 260h6v5h-6zM215 265h12v6h-12zM438 265h7v6h-7zM438 271h7v5h-7zM233 286h6v5h-6zM445 286h6v5h-6zM115 296h6v5h-6zM134 296h12v5h-12zM221 296h6v5h-6zM451 296h6v5h-6zM152 301h7v6h-7zM208 301h7v6h-7zM457 301h6v6h-6zM103 307h6v5h-6zM184 307h12v5h-12zM96 312h7v5h-7zM165 312h12v5h-12zM463 312h6v5h-6zM103 322h6v5h-6zM469 322h7v5h-7zM103 327h6v5h-6zM96 332h7v5h-7zM476 332h6v5h-6zM96 337h7v6h-7zM482 337h19v6h-19zM90 343h6v5h-6zM501 343h23v5h-23zM84 348h6v5h-6zM78 353h6v5h-6zM75 363h3v5h-3z"/>
<path fill="#8b07f4" d="M90 121h13v5h-13zM115 126h6v6h-6zM128 132h6v5h-6zM513 132h11v5h-11zM146 142h6v5h-6zM152 147h7v5h-7zM476 147h6v5h-6zM159 152h6v5h-6zM469 152h7v5h-7zM165 157h6v5h-6zM258 157h6v5h-6zM177 162h7v6h-7zM264 162h7v6h-7zM302 168h6v5h-6zM457 168h6v5h-6zM432 204h6v5h-6zM432 209h6v5h-6zM432 214h6v5h-6zM432 219h6v5h-6zM432 224h6v5h-6zM432 250h6v5h-6zM432 255h6v5h-6zM445 291h6v5h-6zM109 301h6v6h-6zM457 307h6v5h-6zM103 312h6v5h-6zM96 317h7v5h-7zM463 317h6v5h-6zM109 322h6v5h-6zM109 327h6v5h-6zM103 332h6v5h-6zM103 337h6v6h-6zM96 343h7v5h-7zM494 343h7v5h-7zM90 348h6v5h-6zM84 353h6v5h-6zM78 358h6v5h-6zM75 368h3v5h-3z"/>
<path fill="#940adc" d="M75 126h9v6h-9zM103 132h6v5h-6zM115 137h6v5h-6zM128 142h6v5h-6zM501 142h6v5h-6zM482 152h6v5h-6zM476 157h6v5h-6zM239 162h19v6h-19zM469 162h7v6h-7zM165 168h6v5h-6zM208 168h31v5h-31zM177 173h7v5h-7zM202 173h6v5h-6zM295 173h7v5h-7zM190 178h6v5h-6zM202 178h6v5h-6zM457 178h6v5h-6zM202 183h6v5h-6zM320 183h6v5h-6zM445 183h6v5h-6zM202 188h13v5h-13zM227 188h6v5h-6zM445 188h6v5h-6zM208 193h7v5h-7zM221 193h6v5h-6zM445 193h6v5h-6zM208 198h7v6h-7zM258 198h6v6h-6zM215 204h6v5h-6zM221 209h12v5h-12zM208 219h7v5h-7zM215 224h12v5h-12zM277 224h12v5h-12zM438 224h7v5h-7zM208 235h7v5h-7zM308 235h6v5h-6zM295 240h13v5h-13zM295 245h19v5h-19zM438 245h7v5h-7zM258 250h6v5h-6zM302 250h6v5h-6zM438 250h7v5h-7zM277 255h6v5h-6zM239 260h7v5h-7zM445 260h6v5h-6zM208 265h7v6h-7zM264 265h7v6h-7zM445 265h6v6h-6zM239 281h7v5h-7zM451 281h6v5h-6zM457 286h6v5h-6zM227 291h6v5h-6zM84 296h25v5h-25zM463 296h6v5h-6zM78 301h12v6h-12zM469 301h7v6h-7zM78 307h6v5h-6zM165 307h12v5h-12zM78 312h6v5h-6zM476 312h6v5h-6zM78 322h6v5h-6zM482 322h6v5h-6zM513 322h6v5h-6zM78 327h6v5h-6zM482 327h6v5h-6zM519 327h5v5h-5zM78 332h6v5h-6zM488 332h36v5h-36zM75 343h3v5h-3z"/>
<path fill="#9209e2" d="M84 126h6v6h-6zM109 132h6v5h-6zM121 137h7v5h-7zM519 137h5v5h-5zM140 147h6v5h-6zM488 147h6v5h-6zM146 152h6v5h-6zM152 157h7v5h-7zM227 162h12v6h-12zM184 173h6v5h-6zM438 219h7v5h-7zM457 291h6v5h-6zM90 301h6v6h-6zM469 307h7v5h-7zM78 317h6v5h-6zM476 317h6v5h-6zM84 322h6v5h-6zM519 322h5v5h-5zM84 327h6v5h-6zM84 332h6v5h-6zM78 337h6v6h-6zM75 348h3v5h-3z"/>
<path fill="#9008e7" d="M90 126h13v6h-13zM115 132h6v5h-6zM507 137h12v5h-12zM134 142h6v5h-6zM494 142h7v5h-7zM159 162h6v6h-6zM215 162h12v6h-12zM171 168h6v5h-6zM202 168h6v5h-6zM258 168h6v5h-6zM463 168h6v5h-6zM190 173h12v5h-12zM302 173h6v5h-6zM196 178h6v5h-6zM314 178h6v5h-6zM196 183h6v5h-6zM438 183h7v5h-7zM196 188h6v5h-6zM320 188h6v5h-6zM438 188h7v5h-7zM202 193h6v5h-6zM308 193h6v5h-6zM438 193h7v5h-7zM202 198h6v6h-6zM264 198h13v6h-13zM438 198h7v6h-7zM208 204h7v5h-7zM438 204h7v5h-7zM208 209h13v5h-13zM233 209h6v5h-6zM438 209h7v5h-7zM438 214h7v5h-7zM215 219h12v5h-12zM289 224h6v5h-6zM271 229h6v6h-6zM264 235h7v5h-7zM202 240h6v5h-6zM308 240h6v5h-6zM289 250h13v5h-13zM314 250h6v5h-6zM202 255h6v5h-6zM308 255h6v5h-6zM438 255h7v5h-7zM208 260h7v5h-7zM445 271h6v5h-6zM445 276h6v5h-6zM451 286h6v5h-6zM121 296h13v5h-13zM146 296h6v5h-6zM215 296h6v5h-6zM457 296h6v5h-6zM96 301h7v6h-7zM159 301h6v6h-6zM202 301h6v6h-6zM463 301h6v6h-6zM84 307h12v5h-12zM177 307h7v5h-7zM84 312h6v5h-6zM469 312h7v5h-7zM84 317h6v5h-6zM90 322h6v5h-6zM476 322h6v5h-6zM90 327h6v5h-6zM476 327h6v5h-6zM90 332h6v5h-6zM482 332h6v5h-6zM84 337h6v6h-6zM501 337h23v6h-23zM78 343h6v5h-6zM75 353h3v5h-3z"/>
<path fill="#8e08ec" d="M103 126h6v6h-6zM128 137h6v5h-6zM501 137h6v5h-6zM146 147h6v5h-6zM482 147h6v5h-6zM152 152h7v5h-7zM476 152h6v5h-6zM469 157h7v5h-7zM165 162h6v6h-6zM208 162h7v6h-7zM177 168h7v5h-7zM264 168h13v5h-13zM457 173h6v5h-6zM277 198h6v6h-6zM215 235h6v5h-6zM438 260h7v5h-7zM246 281h6v5h-6zM445 281h6v5h-6zM451 291h6v5h-6zM109 296h6v5h-6zM103 301h6v6h-6zM96 307h7v5h-7zM463 307h6v5h-6zM90 312h6v5h-6zM90 317h6v5h-6zM469 317h7v5h-7zM96 322h7v5h-7zM96 327h7v5h-7zM90 337h6v6h-6zM84 343h6v5h-6zM78 348h6v5h-6zM75 358h3v5h-3z"/>
<path fill="#9a0cbf" d="M75 132h9v5h-9zM96 137h13v5h-13zM115 142h6v5h-6zM519 142h5v5h-5zM128 147h6v5h-6zM501 147h6v5h-6zM134 152h6v5h-6zM140 157h6v5h-6zM482 157h6v5h-6zM146 162h6v6h-6zM476 162h6v6h-6zM152 168h7v5h-7zM165 173h6v5h-6zM215 173h12v5h-12zM239 173h7v5h-7zM171 178h6v5h-6zM215 178h12v5h-12zM233 178h6v5h-6zM177 183h7v5h-7zM215 183h6v5h-6zM233 183h6v5h-6zM308 183h6v5h-6zM451 183h6v5h-6zM190 188h6v5h-6zM233 188h6v5h-6zM451 188h6v5h-6zM190 193h6v5h-6zM233 193h6v5h-6zM295 193h7v5h-7zM451 193h6v5h-6zM227 198h12v6h-12zM246 204h12v5h-12zM445 214h6v5h-6zM202 219h6v5h-6zM445 219h6v5h-6zM208 229h7v6h-7zM302 235h6v5h-6zM289 245h6v5h-6zM196 250h6v5h-6zM283 250h6v5h-6zM308 250h6v5h-6zM445 250h6v5h-6zM227 265h6v6h-6zM451 265h6v6h-6zM258 271h6v5h-6zM457 276h6v5h-6zM463 281h6v5h-6zM78 291h6v5h-6zM109 291h12v5h-12zM469 291h7v5h-7zM184 301h12v6h-12zM476 301h6v6h-6zM519 307h5v5h-5zM482 312h6v5h-6zM513 312h6v5h-6zM488 317h6v5h-6zM507 317h6v5h-6zM494 322h13v5h-13zM488 327h13v5h-13z"/>
<path fill="#990cc7" d="M84 132h6v5h-6zM513 142h6v5h-6z"/>
<path fill="#970bce" d="M90 132h6v5h-6zM109 137h6v5h-6zM121 142h7v5h-7zM507 142h6v5h-6zM134 147h6v5h-6zM494 147h7v5h-7zM140 152h6v5h-6zM488 152h6v5h-6zM146 157h6v5h-6zM152 162h7v6h-7zM159 168h6v5h-6zM239 168h19v5h-19zM469 168h7v5h-7zM171 173h6v5h-6zM208 173h7v5h-7zM227 173h12v5h-12zM258 173h37v5h-37zM463 173h6v5h-6zM177 178h7v5h-7zM208 178h7v5h-7zM227 178h6v5h-6zM308 178h6v5h-6zM184 183h6v5h-6zM208 183h7v5h-7zM227 183h6v5h-6zM314 183h6v5h-6zM215 188h6v5h-6zM308 188h6v5h-6zM215 193h6v5h-6zM227 193h6v5h-6zM215 198h12v6h-12zM445 198h6v6h-6zM221 204h25v5h-25zM445 204h6v5h-6zM445 209h6v5h-6zM208 224h7v5h-7zM215 229h12v6h-12zM295 229h7v6h-7zM438 229h7v6h-7zM438 235h7v5h-7zM438 240h7v5h-7zM445 255h6v5h-6zM202 260h6v5h-6zM215 271h12v5h-12zM451 271h6v5h-6zM246 276h6v5h-6zM451 276h6v5h-6zM457 281h6v5h-6zM463 286h6v5h-6zM84 291h12v5h-12zM121 291h13v5h-13zM463 291h6v5h-6zM75 296h9v5h-9zM152 296h7v5h-7zM208 296h7v5h-7zM469 296h7v5h-7zM75 301h3v6h-3zM196 301h6v6h-6zM75 307h3v5h-3zM476 307h6v5h-6zM75 312h3v5h-3zM519 312h5v5h-5zM482 317h6v5h-6zM513 317h6v5h-6zM75 322h3v5h-3zM488 322h6v5h-6zM507 322h6v5h-6zM75 327h3v5h-3zM501 327h18v5h-18zM75 332h3v5h-3z"/>
<path fill="#950ad5" d="M96 132h7v5h-7zM184 178h6v5h-6zM190 183h6v5h-6zM75 317h3v5h-3zM519 317h5v5h-5zM75 337h3v6h-3z"/>
<path fill="#a0109b" d="M75 137h15v5h-15zM96 142h7v5h-7zM115 147h6v5h-6zM513 147h6v5h-6zM501 152h6v5h-6zM482 162h6v6h-6zM476 168h6v5h-6zM252 178h19v5h-19zM295 178h7v5h-7zM246 183h6v5h-6zM457 183h6v5h-6zM184 188h6v5h-6zM457 188h6v5h-6zM277 193h12v5h-12zM457 193h6v5h-6zM246 198h6v6h-6zM190 204h6v5h-6zM451 214h6v5h-6zM202 224h6v5h-6zM445 229h6v6h-6zM202 235h6v5h-6zM295 235h7v5h-7zM445 235h6v5h-6zM445 240h6v5h-6zM196 245h6v5h-6zM451 255h6v5h-6zM264 260h7v5h-7zM457 265h6v6h-6zM463 271h6v5h-6zM469 276h7v5h-7zM476 281h6v5h-6zM78 286h18v5h-18zM227 286h6v5h-6zM134 291h18v5h-18zM476 291h6v5h-6zM202 296h6v5h-6zM482 296h6v5h-6zM519 296h5v5h-5zM171 301h6v6h-6zM482 301h6v6h-6zM513 301h6v6h-6zM488 307h6v5h-6zM507 307h6v5h-6zM494 312h13v5h-13z"/>
<path fill="#9d0eae" d="M90 137h6v5h-6zM109 142h6v5h-6zM121 147h7v5h-7zM494 152h7v5h-7zM159 173h6v5h-6zM252 173h6v5h-6zM239 178h7v5h-7zM302 178h6v5h-6zM239 183h7v5h-7zM239 188h7v5h-7zM239 193h7v5h-7zM289 193h6v5h-6zM302 193h6v5h-6zM190 198h6v6h-6zM239 198h7v6h-7zM451 198h6v6h-6zM451 204h6v5h-6zM445 224h6v5h-6zM289 229h6v6h-6zM445 245h6v5h-6zM196 255h6v5h-6zM246 260h6v5h-6zM451 260h6v5h-6zM202 265h6v6h-6zM208 271h7v5h-7zM457 271h6v5h-6zM463 276h6v5h-6zM469 281h7v5h-7zM469 286h7v5h-7zM75 291h3v5h-3zM96 291h13v5h-13zM221 291h6v5h-6zM159 296h6v5h-6zM476 296h6v5h-6zM165 301h6v6h-6zM177 301h7v6h-7zM519 301h5v6h-5zM482 307h6v5h-6zM513 307h6v5h-6zM488 312h6v5h-6zM507 312h6v5h-6zM494 317h13v5h-13z"/>
<path fill="#a71472" d="M75 142h15v5h-15zM103 147h6v5h-6zM115 152h6v5h-6zM513 152h6v5h-6zM501 157h6v5h-6zM488 162h6v6h-6zM482 168h6v5h-6zM476 173h6v5h-6zM252 183h12v5h-12zM302 183h6v5h-6zM469 183h13v5h-13zM177 188h7v5h-7zM258 193h6v5h-6zM463 193h6v5h-6zM184 198h6v6h-6zM457 204h6v5h-6zM196 219h6v5h-6zM202 229h6v6h-6zM283 235h6v5h-6zM451 245h6v5h-6zM271 255h6v5h-6zM196 265h6v6h-6zM469 265h7v6h-7zM202 271h6v5h-6zM227 271h6v5h-6zM476 271h6v5h-6zM221 276h6v5h-6zM482 281h6v5h-6zM121 286h7v5h-7zM519 286h5v5h-5zM488 291h6v5h-6zM513 291h6v5h-6zM488 296h6v5h-6zM507 296h6v5h-6zM494 301h13v6h-13z"/>
<path fill="#a41287" d="M90 142h6v5h-6zM109 147h6v5h-6zM121 152h7v5h-7zM507 152h6v5h-6zM128 157h6v5h-6zM494 157h7v5h-7zM134 162h6v6h-6zM140 168h6v5h-6zM146 173h6v5h-6zM152 178h13v5h-13zM271 178h24v5h-24zM469 178h7v5h-7zM165 183h6v5h-6zM295 183h7v5h-7zM463 183h6v5h-6zM246 188h6v5h-6zM258 188h6v5h-6zM295 188h7v5h-7zM463 188h6v5h-6zM184 193h6v5h-6zM246 193h6v5h-6zM264 193h13v5h-13zM252 198h6v6h-6zM457 198h6v6h-6zM190 209h6v5h-6zM451 219h6v5h-6zM277 229h12v6h-12zM289 235h6v5h-6zM451 250h6v5h-6zM252 255h6v5h-6zM196 260h6v5h-6zM457 260h6v5h-6zM463 265h6v6h-6zM469 271h7v5h-7zM215 276h6v5h-6zM239 276h7v5h-7zM476 276h6v5h-6zM233 281h6v5h-6zM75 286h3v5h-3zM96 286h13v5h-13zM128 286h6v5h-6zM476 286h6v5h-6zM152 291h7v5h-7zM215 291h6v5h-6zM482 291h6v5h-6zM519 291h5v5h-5zM513 296h6v5h-6zM488 301h6v6h-6zM507 301h6v6h-6zM494 307h13v5h-13z"/>
<path fill="#9f0fa5" d="M103 142h6v5h-6zM507 147h6v5h-6zM128 152h6v5h-6zM134 157h6v5h-6zM488 157h6v5h-6zM140 162h6v6h-6zM146 168h6v5h-6zM152 173h7v5h-7zM469 173h7v5h-7zM165 178h6v5h-6zM246 178h6v5h-6zM171 183h6v5h-6zM451 209h6v5h-6zM289 240h6v5h-6z"/>
<path fill="#a9165b" d="M75 147h3v5h-3zM90 147h13v5h-13zM109 152h6v5h-6zM519 152h5v5h-5zM121 157h7v5h-7zM507 157h6v5h-6zM128 162h6v6h-6zM494 162h7v6h-7zM134 168h6v5h-6zM140 173h6v5h-6zM146 178h6v5h-6zM264 183h7v5h-7zM283 183h6v5h-6zM252 188h6v5h-6zM264 188h7v5h-7zM283 188h6v5h-6zM469 188h7v5h-7zM177 193h7v5h-7zM463 198h6v6h-6zM184 204h6v5h-6zM457 209h6v5h-6zM190 214h6v5h-6zM451 224h6v5h-6zM196 240h6v5h-6zM451 240h6v5h-6zM283 245h6v5h-6zM190 250h6v5h-6zM457 255h6v5h-6zM252 260h6v5h-6zM463 260h6v5h-6zM233 265h6v6h-6zM258 265h6v6h-6zM208 276h7v5h-7zM482 276h6v5h-6zM488 281h6v5h-6zM482 286h12v5h-12zM513 286h6v5h-6zM494 291h19v5h-19zM494 296h13v5h-13z"/>
<path fill="#ac1844" d="M78 147h12v5h-12zM103 152h6v5h-6zM115 157h6v5h-6zM513 157h6v5h-6zM121 162h7v6h-7zM501 162h6v6h-6zM128 168h6v5h-6zM488 168h6v5h-6zM134 173h6v5h-6zM482 173h6v5h-6zM476 178h6v5h-6zM171 188h6v5h-6zM302 188h6v5h-6zM476 188h6v5h-6zM252 193h6v5h-6zM469 193h7v5h-7zM177 198h7v6h-7zM457 214h6v5h-6zM451 235h6v5h-6zM264 240h7v5h-7zM264 245h7v5h-7zM457 250h6v5h-6zM190 255h6v5h-6zM258 255h13v5h-13zM258 260h6v5h-6zM239 265h7v6h-7zM476 265h6v6h-6zM482 271h6v5h-6zM488 276h6v5h-6zM494 281h7v5h-7zM221 286h6v5h-6zM494 286h7v5h-7zM507 286h6v5h-6zM159 291h6v5h-6zM208 291h7v5h-7zM165 296h6v5h-6zM196 296h6v5h-6z"/>
<path fill="#a21191" d="M519 147h5v5h-5z"/>
<path fill="#af1b2c" d="M75 152h28v5h-28zM109 157h6v5h-6zM519 157h5v5h-5zM115 162h6v6h-6zM507 162h6v6h-6zM121 168h7v5h-7zM494 168h7v5h-7zM271 183h6v5h-6zM289 183h6v5h-6zM277 188h6v5h-6zM289 188h6v5h-6zM171 193h6v5h-6zM469 198h7v6h-7zM463 204h6v5h-6zM457 219h6v5h-6zM196 224h6v5h-6zM451 229h6v6h-6zM196 235h6v5h-6zM283 240h6v5h-6zM190 245h6v5h-6zM457 245h6v5h-6zM264 250h7v5h-7zM469 260h7v5h-7zM202 276h6v5h-6zM75 281h9v5h-9zM215 281h12v5h-12zM501 281h6v5h-6zM109 286h12v5h-12zM215 286h6v5h-6zM501 286h6v5h-6zM171 296h13v5h-13z"/>
<path fill="#b21e14" d="M75 157h15v5h-15zM103 157h6v5h-6zM513 162h6v6h-6zM501 168h6v5h-6zM128 173h6v5h-6zM488 173h6v5h-6zM134 178h6v5h-6zM482 178h6v5h-6zM152 183h7v5h-7zM482 183h6v5h-6zM165 188h6v5h-6zM271 188h6v5h-6zM171 198h6v6h-6zM177 204h7v5h-7zM463 209h6v5h-6zM184 214h6v5h-6zM190 219h6v5h-6zM463 255h6v5h-6zM246 265h6v6h-6zM482 265h6v6h-6zM196 271h6v5h-6zM488 271h6v5h-6zM494 276h7v5h-7zM507 281h6v5h-6zM184 296h12v5h-12z"/>
<path fill="#b52000" d="M90 157h13v5h-13zM75 162h15v6h-15zM109 162h6v6h-6zM519 162h5v6h-5zM115 168h6v5h-6zM507 168h6v5h-6zM121 173h7v5h-7zM494 173h7v5h-7zM159 188h6v5h-6zM165 193h6v5h-6zM476 193h6v5h-6zM177 209h7v5h-7zM463 214h6v5h-6zM457 224h6v5h-6zM196 229h6v6h-6zM277 235h6v5h-6zM457 240h6v5h-6zM190 260h6v5h-6zM476 260h6v5h-6zM239 271h7v5h-7zM252 271h6v5h-6zM208 281h7v5h-7zM513 281h6v5h-6zM202 291h6v5h-6z"/>
<path fill="#b82300" d="M90 162h19v6h-19zM75 168h21v5h-21zM109 168h6v5h-6zM513 168h6v5h-6zM115 173h6v5h-6zM501 173h6v5h-6zM128 178h6v5h-6zM488 178h6v5h-6zM146 183h6v5h-6zM488 183h13v5h-13zM152 188h7v5h-7zM159 193h6v5h-6zM165 198h6v6h-6zM171 204h6v5h-6zM469 204h7v5h-7zM177 214h7v5h-7zM184 219h6v5h-6zM463 219h6v5h-6zM190 224h6v5h-6zM457 229h6v6h-6zM271 235h6v5h-6zM457 235h6v5h-6zM277 245h6v5h-6zM184 250h6v5h-6zM277 250h6v5h-6zM463 250h6v5h-6zM184 255h6v5h-6zM190 265h6v6h-6zM488 265h6v6h-6zM233 271h6v5h-6zM494 271h7v5h-7zM196 276h6v5h-6zM227 276h12v5h-12zM501 276h6v5h-6zM202 281h6v5h-6zM519 281h5v5h-5zM134 286h6v5h-6zM208 286h7v5h-7zM165 291h6v5h-6z"/>
<path fill="#ba2700" d="M96 168h13v5h-13zM519 168h5v5h-5zM109 173h6v5h-6zM507 173h6v5h-6zM121 178h7v5h-7zM494 178h7v5h-7zM140 183h6v5h-6zM482 188h12v5h-12zM152 193h7v5h-7zM159 198h6v6h-6zM476 198h6v6h-6zM165 204h6v5h-6zM171 209h6v5h-6zM469 209h7v5h-7zM469 214h7v5h-7zM463 224h6v5h-6zM463 245h6v5h-6zM271 250h6v5h-6zM177 255h7v5h-7zM469 255h7v5h-7zM482 260h6v5h-6zM252 265h6v6h-6zM246 271h6v5h-6zM507 276h6v5h-6zM140 286h6v5h-6z"/>
<path fill="#bd2a00" d="M75 173h34v5h-34zM513 173h6v5h-6zM115 178h6v5h-6zM501 178h6v5h-6zM501 183h6v5h-6zM494 188h7v5h-7zM482 193h12v5h-12zM482 198h6v6h-6zM165 209h6v5h-6zM171 214h6v5h-6zM177 219h7v5h-7zM469 219h7v5h-7zM184 224h6v5h-6zM469 224h7v5h-7zM190 229h6v6h-6zM463 229h6v6h-6zM190 240h6v5h-6zM277 240h6v5h-6zM463 240h6v5h-6zM184 245h6v5h-6zM177 250h7v5h-7zM190 271h6v5h-6zM501 271h6v5h-6zM513 276h6v5h-6zM90 281h13v5h-13zM196 281h6v5h-6zM171 291h6v5h-6z"/>
<path fill="#9c0db7" d="M246 173h6v5h-6zM463 178h6v5h-6z"/>
<path fill="#bf2e00" d="M519 173h5v5h-5zM109 178h6v5h-6zM507 178h6v5h-6zM134 183h6v5h-6zM507 183h6v5h-6zM146 193h6v5h-6zM494 193h7v5h-7zM152 198h7v6h-7zM488 198h6v6h-6zM159 204h6v5h-6zM476 224h6v5h-6zM469 229h13v6h-13zM463 235h6v5h-6zM476 255h6v5h-6zM184 260h6v5h-6zM494 265h7v6h-7zM190 276h6v5h-6zM519 276h5v5h-5zM84 281h6v5h-6zM103 281h25v5h-25zM146 286h6v5h-6zM177 291h7v5h-7zM196 291h6v5h-6z"/>
<path fill="#c23100" d="M75 178h34v5h-34zM513 178h6v5h-6zM75 183h3v5h-3zM121 183h13v5h-13zM513 183h6v5h-6zM140 188h6v5h-6zM501 188h6v5h-6zM494 198h7v6h-7zM159 209h6v5h-6zM165 214h6v5h-6zM171 219h6v5h-6zM476 219h6v5h-6zM177 224h7v5h-7zM184 229h6v6h-6zM190 235h6v5h-6zM469 235h7v5h-7zM177 245h7v5h-7zM171 250h6v5h-6zM469 250h7v5h-7zM171 255h6v5h-6zM177 260h7v5h-7zM488 260h6v5h-6zM184 265h6v6h-6zM507 271h6v5h-6zM75 276h3v5h-3zM190 281h6v5h-6zM152 286h7v5h-7zM202 286h6v5h-6zM184 291h12v5h-12z"/>
<path fill="#ae1a38" d="M140 178h6v5h-6zM277 183h6v5h-6zM184 209h6v5h-6z"/>
<path fill="#c53500" d="M519 178h5v5h-5zM78 183h6v5h-6zM115 183h6v5h-6zM519 183h5v5h-5zM507 188h6v5h-6zM501 193h6v5h-6zM152 204h7v5h-7zM476 204h6v5h-6zM90 229h13v6h-13zM469 240h7v5h-7zM469 245h7v5h-7zM482 255h6v5h-6zM501 265h6v6h-6zM513 271h6v5h-6zM78 276h6v5h-6zM128 281h6v5h-6zM159 286h12v5h-12z"/>
<path fill="#c73a00" d="M84 183h6v5h-6zM103 183h12v5h-12zM513 188h6v5h-6zM140 193h6v5h-6zM507 193h6v5h-6zM146 198h6v6h-6zM501 198h6v6h-6zM476 209h6v5h-6zM159 214h6v5h-6zM476 214h6v5h-6zM165 219h6v5h-6zM84 224h25v5h-25zM171 224h6v5h-6zM482 224h6v5h-6zM84 229h6v6h-6zM103 229h6v6h-6zM177 229h7v6h-7zM482 229h6v6h-6zM90 235h6v5h-6zM476 235h6v5h-6zM184 240h6v5h-6zM171 245h6v5h-6zM171 260h6v5h-6zM494 260h7v5h-7zM177 265h7v6h-7zM184 271h6v5h-6zM519 271h5v5h-5zM184 276h6v5h-6zM146 281h44v5h-44z"/>
<path fill="#c83c00" d="M90 183h13v5h-13zM134 188h6v5h-6z"/>
<path fill="#ab1750" d="M159 183h6v5h-6z"/>
<path fill="#ca3e00" d="M75 188h3v5h-3zM519 188h5v5h-5zM513 193h6v5h-6zM507 198h6v6h-6zM482 204h6v5h-6zM152 209h7v5h-7zM90 219h13v5h-13zM482 219h6v5h-6zM78 224h6v5h-6zM78 229h6v6h-6zM109 229h6v6h-6zM171 229h6v6h-6zM84 235h6v5h-6zM184 235h6v5h-6zM482 235h6v5h-6zM84 240h12v5h-12zM177 240h7v5h-7zM476 240h6v5h-6zM271 245h6v5h-6zM165 250h6v5h-6zM476 250h12v5h-12zM165 255h6v5h-6zM488 255h6v5h-6zM501 260h6v5h-6zM171 265h6v6h-6zM507 265h6v6h-6zM177 271h7v5h-7zM177 276h7v5h-7zM140 281h6v5h-6zM171 286h6v5h-6z"/>
<path fill="#cc4300" d="M78 188h6v5h-6zM128 188h6v5h-6zM134 193h6v5h-6zM519 193h5v5h-5zM140 198h6v6h-6zM513 198h6v6h-6zM146 204h6v5h-6zM488 204h25v5h-25zM482 209h6v5h-6zM501 209h12v5h-12zM482 214h12v5h-12zM75 219h3v5h-3zM84 219h6v5h-6zM103 219h6v5h-6zM159 219h6v5h-6zM488 219h6v5h-6zM75 224h3v5h-3zM109 224h6v5h-6zM165 224h6v5h-6zM488 224h6v5h-6zM165 229h6v6h-6zM488 229h6v6h-6zM96 235h13v5h-13zM177 235h7v5h-7zM171 240h6v5h-6zM271 240h6v5h-6zM482 240h6v5h-6zM84 245h12v5h-12zM165 245h6v5h-6zM476 245h12v5h-12zM494 255h7v5h-7zM165 260h6v5h-6zM513 265h6v6h-6zM75 271h3v5h-3zM171 271h6v5h-6zM84 276h12v5h-12zM115 276h6v5h-6zM171 276h6v5h-6zM134 281h6v5h-6zM177 286h7v5h-7z"/>
<path fill="#d14d00" d="M84 188h6v5h-6zM128 193h6v5h-6zM75 198h3v6h-3zM134 198h6v6h-6zM75 204h3v5h-3zM140 204h6v5h-6zM519 204h5v5h-5zM75 209h3v5h-3zM146 209h6v5h-6zM519 209h5v5h-5zM90 214h6v5h-6zM519 214h5v5h-5zM109 219h6v5h-6zM152 219h7v5h-7zM501 219h6v5h-6zM115 224h6v5h-6zM152 224h7v5h-7zM494 224h7v5h-7zM121 229h7v6h-7zM152 229h7v6h-7zM494 229h7v6h-7zM75 235h3v5h-3zM115 235h13v5h-13zM146 235h25v5h-25zM78 240h6v5h-6zM109 240h6v5h-6zM152 240h13v5h-13zM78 245h6v5h-6zM96 245h7v5h-7zM159 245h6v5h-6zM488 245h6v5h-6zM84 250h12v5h-12zM159 250h6v5h-6zM494 250h7v5h-7zM159 255h6v5h-6zM501 255h6v5h-6zM165 265h6v6h-6zM78 271h6v5h-6zM165 271h6v5h-6zM121 276h7v5h-7zM159 276h6v5h-6zM184 286h6v5h-6z"/>
<path fill="#d85e00" d="M90 188h6v5h-6zM103 188h12v5h-12zM78 198h6v6h-6zM128 198h6v6h-6zM78 204h6v5h-6zM84 209h6v5h-6zM134 209h6v5h-6zM128 214h12v5h-12zM519 219h5v5h-5zM513 224h6v5h-6zM507 229h6v6h-6zM109 245h25v5h-25zM146 245h6v5h-6zM501 245h6v5h-6zM103 250h6v5h-6zM507 250h6v5h-6zM152 260h7v5h-7zM140 276h6v5h-6z"/>
<path fill="#da6400" d="M96 188h7v5h-7zM84 193h6v5h-6zM121 193h7v5h-7zM128 204h6v5h-6zM90 209h6v5h-6zM103 214h6v5h-6zM121 214h7v5h-7zM519 224h5v5h-5zM513 229h11v6h-11zM501 235h23v5h-23zM501 240h23v5h-23zM134 245h6v5h-6zM507 245h12v5h-12zM75 250h9v5h-9zM146 250h6v5h-6zM513 255h6v5h-6zM75 260h3v5h-3zM152 265h7v6h-7zM152 271h7v5h-7zM134 276h6v5h-6z"/>
<path fill="#d55800" d="M115 188h6v5h-6zM78 209h6v5h-6zM140 209h6v5h-6zM140 214h6v5h-6zM121 219h25v5h-25zM513 219h6v5h-6zM507 224h6v5h-6zM501 229h6v6h-6zM494 235h7v5h-7zM128 240h18v5h-18zM494 240h7v5h-7zM75 245h3v5h-3zM494 245h7v5h-7zM96 250h7v5h-7zM152 250h7v5h-7zM501 250h6v5h-6zM152 255h7v5h-7zM507 255h6v5h-6zM513 260h6v5h-6zM159 265h6v6h-6zM159 271h6v5h-6zM128 276h6v5h-6zM146 276h6v5h-6z"/>
<path fill="#ce4800" d="M121 188h7v5h-7zM75 193h3v5h-3zM519 198h5v6h-5zM513 204h6v5h-6zM488 209h13v5h-13zM513 209h6v5h-6zM75 214h3v5h-3zM152 214h7v5h-7zM494 214h25v5h-25zM78 219h6v5h-6zM494 219h7v5h-7zM159 224h6v5h-6zM75 229h3v6h-3zM115 229h6v6h-6zM159 229h6v6h-6zM78 235h6v5h-6zM109 235h6v5h-6zM171 235h6v5h-6zM488 235h6v5h-6zM96 240h13v5h-13zM165 240h6v5h-6zM488 240h6v5h-6zM488 250h6v5h-6zM507 260h6v5h-6zM96 276h19v5h-19zM165 276h6v5h-6zM196 286h6v5h-6z"/>
<path fill="#bc2800" d="M146 188h6v5h-6zM227 281h6v5h-6z"/>
<path fill="#d45500" d="M78 193h6v5h-6zM115 219h6v5h-6zM134 235h6v5h-6zM121 240h7v5h-7zM75 265h3v6h-3z"/>
<path fill="#e58600" d="M90 193h6v5h-6zM90 204h6v5h-6zM134 255h6v5h-6zM140 260h6v5h-6zM90 271h6v5h-6zM121 271h7v5h-7z"/>
<path fill="#e78e00" d="M96 193h13v5h-13zM121 198h7v6h-7zM109 255h12v5h-12zM96 260h13v5h-13zM128 260h6v5h-6zM96 271h13v5h-13zM140 271h6v5h-6z"/>
<path fill="#eb9a00" d="M109 193h6v5h-6zM115 209h6v5h-6zM121 260h7v5h-7zM134 260h6v5h-6zM84 265h6v6h-6zM140 265h6v6h-6z"/>
<path fill="#e07400" d="M115 193h6v5h-6zM84 198h6v6h-6zM84 204h6v5h-6zM75 255h3v5h-3zM96 255h7v5h-7zM128 255h6v5h-6zM115 271h6v5h-6z"/>
<path fill="#eea700" d="M90 198h6v6h-6zM109 209h6v5h-6zM90 260h6v5h-6zM109 260h6v5h-6zM128 271h12v5h-12z"/>
<path fill="#f5c800" d="M96 198h7v6h-7zM115 204h6v5h-6zM84 260h6v5h-6zM103 265h6v6h-6z"/>
<path fill="#fdf200" d="M103 198h12v6h-12z"/>
<path fill="#f0b000" d="M115 198h6v6h-6zM103 209h6v5h-6zM78 255h6v5h-6zM78 260h6v5h-6zM128 265h6v6h-6z"/>
<path fill="#f2b900" d="M96 204h7v5h-7zM121 204h7v5h-7zM115 260h6v5h-6zM109 265h19v6h-19zM134 265h6v6h-6z"/>
<path fill="#fffe00" d="M103 204h12v5h-12z"/>
<path fill="#d35200" d="M134 204h6v5h-6zM78 214h12v5h-12zM96 214h7v5h-7zM146 214h6v5h-6zM146 219h6v5h-6zM507 219h6v5h-6zM121 224h31v5h-31zM501 224h6v5h-6zM128 229h24v6h-24zM128 235h6v5h-6zM140 235h6v5h-6zM75 240h3v5h-3zM115 240h6v5h-6zM146 240h6v5h-6zM103 245h6v5h-6zM152 245h7v5h-7zM159 260h6v5h-6zM519 265h5v6h-5zM152 276h7v5h-7zM190 286h6v5h-6z"/>
<path fill="#5900b0" d="M351 204h13v5h-13zM339 209h6v5h-6zM358 209h6v5h-6zM333 214h12v5h-12zM351 214h7v5h-7zM376 219h19v5h-19zM264 224h7v5h-7zM376 224h6v5h-6zM246 229h6v6h-6zM382 229h7v6h-7zM395 229h6v6h-6zM389 235h6v5h-6zM376 276h6v5h-6zM283 281h6v5h-6zM320 281h6v5h-6zM376 281h6v5h-6zM277 286h6v5h-6zM320 286h13v5h-13zM364 286h18v5h-18zM326 291h13v5h-13zM351 291h7v5h-7zM345 296h6v5h-6zM239 312h7v5h-7zM413 312h7v5h-7zM221 322h6v5h-6zM221 327h6v5h-6zM420 327h6v5h-6zM227 332h6v5h-6zM420 332h6v5h-6zM233 343h6v5h-6zM407 348h6v5h-6zM233 353h6v5h-6zM407 353h6v5h-6zM432 353h6v5h-6zM407 358h6v5h-6zM420 358h6v5h-6zM432 358h6v5h-6zM407 363h6v5h-6zM420 363h6v5h-6zM246 368h6v5h-6zM382 373h7v6h-7zM252 379h6v5h-6zM370 384h6v5h-6zM258 389h6v5h-6zM370 389h6v5h-6zM370 394h6v5h-6zM264 399h7v5h-7zM364 399h6v5h-6zM271 404h6v6h-6zM277 410h6v5h-6zM289 410h62v5h-62z"/>
<path fill="#e37f00" d="M96 209h7v5h-7zM121 209h7v5h-7zM103 255h6v5h-6zM121 255h7v5h-7zM140 255h6v5h-6zM519 255h5v5h-5zM78 265h6v6h-6z"/>
<path fill="#dc6a00" d="M128 209h6v5h-6zM109 214h12v5h-12zM140 245h6v5h-6zM519 245h5v5h-5zM109 250h6v5h-6zM513 250h6v5h-6zM146 255h6v5h-6zM146 260h6v5h-6zM84 271h6v5h-6z"/>
<path fill="#53009e" d="M345 209h13v5h-13zM345 214h6v5h-6zM252 219h6v5h-6zM264 219h7v5h-7zM382 224h7v5h-7zM389 229h6v6h-6zM389 265h12v6h-12zM302 271h6v5h-6zM314 276h6v5h-6zM382 276h7v5h-7zM401 276h6v5h-6zM314 281h6v5h-6zM382 281h7v5h-7zM401 281h6v5h-6zM264 286h13v5h-13zM283 286h6v5h-6zM314 286h6v5h-6zM382 286h7v5h-7zM314 291h12v5h-12zM358 291h12v5h-12zM382 291h7v5h-7zM395 291h6v5h-6zM252 296h6v5h-6zM314 296h12v5h-12zM339 296h6v5h-6zM351 296h7v5h-7zM376 296h13v5h-13zM395 296h6v5h-6zM333 301h18v6h-18zM376 301h13v6h-13zM395 301h6v6h-6zM246 307h6v5h-6zM364 307h18v5h-18zM395 307h6v5h-6zM227 317h6v5h-6zM413 317h7v5h-7zM227 327h6v5h-6zM233 332h6v5h-6zM233 337h6v6h-6zM413 337h7v6h-7zM239 343h7v5h-7zM407 343h13v5h-13zM413 348h7v5h-7zM239 353h7v5h-7zM413 353h7v5h-7zM246 358h6v5h-6zM401 358h6v5h-6zM401 363h6v5h-6zM252 368h6v5h-6zM258 379h6v5h-6zM364 384h6v5h-6zM264 394h7v5h-7zM358 394h6v5h-6zM271 399h6v5h-6zM277 404h6v6h-6zM320 404h19v6h-19z"/>
<path fill="#3f005e" d="M258 219h6v5h-6zM258 229h6v6h-6zM289 281h13v5h-13zM308 281h6v5h-6zM289 286h6v5h-6zM308 286h6v5h-6zM289 291h13v5h-13zM264 296h13v5h-13zM302 296h6v5h-6zM264 301h7v6h-7zM258 307h6v5h-6zM258 317h6v5h-6zM295 317h19v5h-19zM326 317h19v5h-19zM258 322h6v5h-6zM295 322h38v5h-38zM345 322h13v5h-13zM376 322h25v5h-25zM264 327h7v5h-7zM295 327h31v5h-31zM407 327h6v5h-6zM264 332h7v5h-7zM407 332h6v5h-6zM264 337h7v6h-7zM401 337h6v6h-6zM264 343h7v5h-7zM395 343h6v5h-6zM258 348h6v5h-6zM382 353h13v5h-13zM264 358h7v5h-7zM364 358h12v5h-12zM358 363h6v5h-6zM389 363h6v5h-6zM271 368h6v5h-6zM345 368h13v5h-13zM271 373h6v6h-6zM289 373h6v6h-6zM333 373h6v6h-6zM295 379h13v5h-13zM345 379h6v5h-6zM308 384h43v5h-43zM277 389h6v5h-6zM289 389h13v5h-13zM320 389h6v5h-6zM302 394h12v5h-12z"/>
<path fill="#360047" d="M252 224h6v5h-6zM302 291h6v5h-6zM289 296h13v5h-13zM271 307h6v5h-6zM264 312h13v5h-13zM264 317h25v5h-25zM271 322h18v5h-18zM283 327h6v5h-6zM326 327h19v5h-19zM376 327h6v5h-6zM395 327h6v5h-6zM277 332h12v5h-12zM320 332h6v5h-6zM351 332h19v5h-19zM395 332h6v5h-6zM277 337h6v6h-6zM289 337h6v6h-6zM308 337h12v6h-12zM395 337h6v6h-6zM271 343h6v5h-6zM289 343h19v5h-19zM389 343h6v5h-6zM271 348h6v5h-6zM382 348h7v5h-7zM271 353h6v5h-6zM370 353h6v5h-6zM271 358h6v5h-6zM358 358h6v5h-6zM277 363h6v5h-6zM289 363h19v5h-19zM345 363h6v5h-6zM283 368h6v5h-6zM308 368h31v5h-31zM283 373h6v6h-6zM320 373h6v6h-6zM283 379h6v5h-6zM314 379h12v5h-12zM283 384h6v5h-6z"/>
<path fill="#2c002f" d="M258 224h6v5h-6zM252 229h6v6h-6zM302 286h6v5h-6zM283 296h6v5h-6zM289 301h6v6h-6zM277 312h12v5h-12zM382 327h7v5h-7zM326 337h13v6h-13zM358 337h18v6h-18zM389 337h6v6h-6zM376 343h6v5h-6zM283 348h6v5h-6zM308 348h18v5h-18zM370 348h6v5h-6zM283 353h6v5h-6zM308 353h6v5h-6zM364 353h6v5h-6zM308 358h25v5h-25zM351 358h7v5h-7z"/>
<path fill="#4d008a" d="M389 224h6v5h-6zM289 276h6v5h-6zM308 276h6v5h-6zM395 276h6v5h-6zM395 281h6v5h-6zM258 291h6v5h-6zM283 291h6v5h-6zM308 296h6v5h-6zM358 296h12v5h-12zM252 301h6v6h-6zM314 301h6v6h-6zM358 301h6v6h-6zM326 307h32v5h-32zM246 312h6v5h-6zM351 312h7v5h-7zM382 312h13v5h-13zM233 317h6v5h-6zM227 322h6v5h-6zM233 327h6v5h-6zM413 327h7v5h-7zM413 332h7v5h-7zM246 337h6v6h-6zM246 343h6v5h-6zM401 348h6v5h-6zM246 353h6v5h-6zM252 358h6v5h-6zM395 358h6v5h-6zM413 363h7v5h-7zM258 368h6v5h-6zM376 368h13v5h-13zM264 384h7v5h-7zM358 384h6v5h-6zM271 394h6v5h-6zM351 394h7v5h-7zM277 399h6v5h-6zM320 399h6v5h-6zM333 399h12v5h-12zM283 404h31v6h-31z"/>
<path fill="#5600a7" d="M395 224h6v5h-6zM389 260h12v5h-12zM401 286h6v5h-6zM370 291h12v5h-12zM401 312h6v5h-6zM233 348h6v5h-6zM246 363h6v5h-6zM401 368h6v5h-6zM252 373h6v6h-6zM376 373h6v6h-6zM370 379h6v5h-6zM258 384h6v5h-6zM364 389h6v5h-6zM364 394h6v5h-6zM358 399h6v5h-6zM351 404h7v6h-7zM283 410h6v5h-6z"/>
<path fill="#df7100" d="M115 250h19v5h-19zM140 250h6v5h-6zM90 255h6v5h-6zM519 260h5v5h-5z"/>
<path fill="#e17800" d="M134 250h6v5h-6zM519 250h5v5h-5zM84 255h6v5h-6zM146 265h6v6h-6zM109 271h6v5h-6zM146 271h6v5h-6z"/>
<path fill="#f8d700" d="M90 265h6v6h-6z"/>
<path fill="#fae200" d="M96 265h7v6h-7z"/>
<path fill="#500094" d="M389 271h12v5h-12zM295 276h7v5h-7zM389 276h6v5h-6zM389 281h6v5h-6zM389 286h12v5h-12zM389 291h6v5h-6zM326 296h7v5h-7zM370 296h6v5h-6zM389 296h6v5h-6zM320 301h13v6h-13zM351 301h7v6h-7zM364 301h12v6h-12zM389 301h6v6h-6zM358 307h6v5h-6zM382 307h13v5h-13zM358 312h24v5h-24zM395 312h6v5h-6zM413 322h7v5h-7zM239 337h7v6h-7zM239 348h7v5h-7zM401 353h6v5h-6zM413 358h7v5h-7zM252 363h6v5h-6zM395 368h6v5h-6zM258 373h6v6h-6zM370 373h6v6h-6zM364 379h6v5h-6zM264 389h7v5h-7zM358 389h6v5h-6zM326 399h7v5h-7zM351 399h7v5h-7zM314 404h6v6h-6zM339 404h12v6h-12z"/>
<path fill="#460075" d="M302 276h6v5h-6zM308 291h6v5h-6zM258 296h6v5h-6zM302 301h6v6h-6zM252 307h6v5h-6zM302 307h18v5h-18zM314 312h19v5h-19zM246 317h6v5h-6zM358 317h24v5h-24zM401 317h6v5h-6zM407 322h6v5h-6zM252 327h6v5h-6zM246 332h12v5h-12zM252 337h6v6h-6zM407 337h6v6h-6zM401 343h6v5h-6zM252 348h6v5h-6zM252 353h6v5h-6zM395 353h6v5h-6zM258 358h6v5h-6zM382 358h7v5h-7zM376 363h13v5h-13zM395 363h6v5h-6zM264 368h7v5h-7zM364 368h6v5h-6zM358 373h6v6h-6zM351 384h7v5h-7zM271 389h6v5h-6zM277 394h6v5h-6zM320 394h6v5h-6zM345 394h6v5h-6zM283 399h31v5h-31z"/>
<path fill="#31003b" d="M302 281h6v5h-6zM277 296h6v5h-6zM389 327h6v5h-6zM326 332h25v5h-25zM370 332h25v5h-25zM283 337h6v6h-6zM320 337h6v6h-6zM376 337h13v6h-13zM277 343h12v5h-12zM308 343h18v5h-18zM382 343h7v5h-7zM277 348h6v5h-6zM289 348h19v5h-19zM376 348h6v5h-6zM277 353h6v5h-6zM289 353h19v5h-19zM277 358h31v5h-31zM345 358h6v5h-6zM283 363h6v5h-6zM308 363h37v5h-37z"/>
<path fill="#5c01b9" d="M370 281h6v5h-6zM401 291h6v5h-6zM401 307h6v5h-6zM420 353h6v5h-6zM239 358h7v5h-7zM426 358h6v5h-6zM407 368h6v5h-6zM246 373h6v6h-6zM389 373h6v6h-6zM252 384h6v5h-6zM258 394h6v5h-6zM376 394h6v5h-6zM370 399h6v5h-6zM358 404h6v6h-6zM283 415h6v4h-6z"/>
<path fill="#3b0053" d="M295 286h7v5h-7zM271 301h6v6h-6zM264 307h7v5h-7zM258 312h6v5h-6zM289 312h6v5h-6zM289 317h6v5h-6zM264 322h7v5h-7zM289 322h6v5h-6zM333 322h12v5h-12zM271 327h12v5h-12zM289 327h6v5h-6zM345 327h31v5h-31zM401 327h6v5h-6zM271 332h6v5h-6zM289 332h31v5h-31zM401 332h6v5h-6zM271 337h6v6h-6zM295 337h13v6h-13zM264 348h7v5h-7zM389 348h6v5h-6zM264 353h7v5h-7zM376 353h6v5h-6zM271 363h6v5h-6zM351 363h7v5h-7zM277 368h6v5h-6zM289 368h19v5h-19zM339 368h6v5h-6zM277 373h6v6h-6zM295 373h25v6h-25zM326 373h7v6h-7zM277 379h6v5h-6zM289 379h6v5h-6zM308 379h6v5h-6zM326 379h19v5h-19zM277 384h6v5h-6zM289 384h19v5h-19zM283 389h6v5h-6zM302 389h18v5h-18z"/>
<path fill="#42006a" d="M264 291h13v5h-13zM258 301h6v6h-6zM295 301h7v6h-7zM295 307h7v5h-7zM252 312h6v5h-6zM295 312h19v5h-19zM252 317h6v5h-6zM314 317h12v5h-12zM345 317h13v5h-13zM382 317h19v5h-19zM239 322h19v5h-19zM358 322h18v5h-18zM401 322h6v5h-6zM239 327h13v5h-13zM258 327h6v5h-6zM258 332h6v5h-6zM258 337h6v6h-6zM258 343h6v5h-6zM395 348h6v5h-6zM258 353h6v5h-6zM376 358h6v5h-6zM264 363h7v5h-7zM364 363h12v5h-12zM358 368h6v5h-6zM339 373h19v6h-19zM271 379h6v5h-6zM351 379h7v5h-7zM271 384h6v5h-6zM326 389h25v5h-25zM283 394h19v5h-19zM314 394h6v5h-6z"/>
<path fill="#4a007f" d="M277 291h6v5h-6zM333 296h6v5h-6zM308 301h6v6h-6zM320 307h6v5h-6zM333 312h18v5h-18zM239 317h7v5h-7zM407 317h6v5h-6zM233 322h6v5h-6zM239 332h7v5h-7zM252 343h6v5h-6zM246 348h6v5h-6zM389 358h6v5h-6zM258 363h6v5h-6zM370 368h6v5h-6zM389 368h6v5h-6zM264 373h7v6h-7zM364 373h6v6h-6zM264 379h7v5h-7zM358 379h6v5h-6zM351 389h7v5h-7zM326 394h19v5h-19zM314 399h6v5h-6zM345 399h6v5h-6z"/>
<path fill="#1f0017" d="M277 301h6v6h-6zM345 337h6v6h-6zM345 343h19v5h-19zM345 348h19v5h-19zM345 353h6v5h-6zM333 358h12v5h-12z"/>
<path fill="#000000" d="M283 301h6v6h-6zM333 348h12v5h-12zM333 353h12v5h-12z"/>
<path fill="#15000b" d="M277 307h12v5h-12z"/>
<path fill="#260023" d="M289 307h6v5h-6zM339 337h6v6h-6zM351 337h7v6h-7zM326 343h19v5h-19zM364 343h12v5h-12zM326 348h7v5h-7zM364 348h6v5h-6zM314 353h19v5h-19zM351 353h13v5h-13z"/></g>
<path d="M76.5 97L80.25 99.5L83.38 100.75L86.5 101.38L85.25 103.25L83.38 105.75L79.62 103.88L75.25 104.5M154 96.38L149 96L145.88 96.38L142.75 95.12L139.62 93.88L136.5 95.12L132.12 96.38L128.38 96.38L124 95.5L119 93.88L111.5 92.62L104 92.62L99 94.5L95.25 96.38L92.5 98.25L94 99.5L97.75 100.75L95.88 102L90.25 103.25L95.25 103.88L98.38 105.12L96.5 107L94.62 109.5L94.62 113.25L96.5 116.38L99.62 118.25L102.12 118.88L100.88 120.75L97.75 124.5M97.75 124.5L100.25 123.25L104 120.75L105.88 118.88L107.75 117L110.25 115.12L114 113.5L117.75 114.25L124 114.5L127.75 116.38L131.5 117.62L134 119.5L135.88 122.62L137.75 126.38L140.88 128.88L142.12 131.38L141.5 133.88L144 137L145.25 139.5L144.62 147M91.5 127L90.62 127.75M87.5 130.12L86.5 130.62M82.5 131L81.5 131.5M77.75 132.25L76.5 132.5M134.62 128.25L135.5 129.5M187.12 71L194 69.5L202.75 68L209 67.25L214 67.62L219 68.5L222.12 69.5L219 70.75L215.88 72.62L213.38 74.5L211.5 77L212.12 78.88L215.25 79.5L219 79.25L224 80.75M189 72L196.5 72.75L204 72.25M192.12 77L196.5 75.75L201.5 74.5L206.5 72.62L211.5 71.38L216.5 70.5M191.5 80.12L199 78.5L206.5 77M181.5 81.38L186.5 82.62L191.5 83.25L196.5 83.5L200.25 83.88M148.38 80.75L152.75 80L155.88 79.5M155.88 82L160.25 83.5L164 82.62L167.75 83.5L165.88 80.75L162.75 81.75L159 81.12M146.5 87L150.25 85.75L151.75 88.88L149 90.75L146.5 89.75L146.5 87M169.62 75.5L173.38 78L175.88 80.75L175.5 83.5L173.38 81.38M178.38 77.62L181.5 79.75L182.75 82L181.25 83.88L185.25 84.75L189 87L192.75 89.5L196.5 90.75M174 87L177.12 88.25L177.75 91L175.25 90.75L174 87M181.5 87L184.62 86.38L185.25 88.5L182.12 89.25M144 96.38L149 95.75L152.75 94.5L156.5 96.75L161.5 97.62L165.25 98.25L169 97L172.75 95.75L169 93.25L165.25 88.25L161.5 89.75L156.5 90.25L151.5 89.75M145.25 101.38L149 101L152.75 102L150.25 103.88L145.88 104.25L145.25 101.38M149 106.38L152.75 108.25L156.5 110.12L160.25 110.75L163.38 109.5L160.25 112L156.5 112L151.5 112M181.5 117L182.12 113.25L184 110.12L187.12 108.25L190.25 107M200.88 110.75L203.38 113.25L205.88 115.75L207.12 117M214 82L222.75 81.38L229 85.12L230.88 90.12L234.62 92.62L235.88 97L232.75 100.12L236.5 107.62L239 112.62L244.62 113.88L247.75 107L250.25 103.25L256.5 100.12L259 97.62L265.25 97L269 95.12L265.25 93.25L266.5 92L271.5 90.5L267.75 87.62L272.75 84.5L274 80.12L275.88 75.75L279.62 72L282.75 71.38L275.25 71.75L267.75 72.25L268.38 67.62L261.5 67L251.5 66.38L244 68L242.75 68.88L226.5 69.5L221.5 70.12L219 68.88L214 67.62M214 75.75L217.75 73.88L220.88 70.75M214 95.12L216.5 96.38L219 98.25L220.88 100.75L220.25 103.25L217.75 103.88L216.5 105.12L218.38 107L219.62 108.25L217.75 108.88L214 109.5M270.88 103.25L272.75 105.75L275.25 107L279 106.38L280.25 104.5L279.62 101.38L276.5 102L272.75 102.62L270.88 103.25M289.38 92.38L289.75 92.88M184 110L180.88 116.88L184 120.62L186.5 122.5L191.5 123.75L195.25 127.5L197.75 130L200.88 132.5L202.12 127.5L202.75 122.5L202.12 115L202.75 111.88L209 111.88L211.5 113.75L214 116.25L217.75 116.25L220.25 117.5L223.38 121.25L225.88 125L227.75 127.5L229 130.62L230.25 131.5M230.25 131.5L227.12 133.75L224 135.62L221.5 136.88L217.75 138.75L215.25 140L212.75 146.25L209 153.75L205.25 160L203.38 163.75L201.5 170M227.75 134.38L227.12 136.88L229 140.62L231.5 143.12L233.5 142.25L233 138.12L230.5 134.75L227.75 134.38M197.12 150.62L201.5 148.75L206.5 146.25L211.5 143.75L215.25 140.62M184.62 138.12L187.75 136.88L191.5 140L194 142.5L195.88 145.62L197.12 150M190.25 149L191.5 146.25L194 144.38M175.88 130L177.12 127.5L177.75 131.88L176.75 135M180.25 138.75L184 134.38M215.25 141.88L219 142.5L221.5 144.38L217.75 145L215.88 146.25M159 118.12L164 116.88L166.5 116.25L170.25 117.5L172.75 120L172.75 122.5L175.25 121.25L177.75 120M154 111.25L156.5 111.88L159 111.25M199.25 122.5L201.5 123.25M158.38 151.5L159.62 152.5M136.5 125L139.62 127.5L142.12 130.62L140.88 133.75L144 135.62L147.12 137.5L145.25 140L144 141.25L144.62 147.5L145.25 153.75L146.5 158.75L148.38 162.5L150.88 165.62L153.38 168.75L154.62 172.5L155.25 176.25L157.12 180L158.38 182.5L160.25 185M156.75 175.62L158 176.25L159.62 178.75L161.25 181.88L162.75 185M157.75 175L159.62 176.88L161.5 180L164 185M179 185L180.25 180L184 178.75L189 176.5L192.75 177.5L195.88 180L198.38 183.75L199 185M199 185L199.62 177.5L200.25 172.5L202.12 168.75L204 162.5M176.5 130L177.75 128.12L178.38 132.5L177.75 135.62M180.25 138.12L182.75 136.25L185.25 134.38M185.25 138.12L189 137.5L192.12 140.62L194 143.75L195.88 146.25L197.75 150.62L199 149.38L204 147.5M185.25 139L187.75 141.25L191.5 143.75L190.88 147.5L192.5 149.75M134 129.38L135.88 128.12M158.38 151.88L159.62 151.25M203.38 165L200.88 170L199.62 173.75L199.62 183.75L197.12 180L194 178.12L190.25 176.25L186.5 178.12L181.5 179.38L179.62 181.25L178.38 185L178.38 195.62L181.5 198.12L185.25 199.38L189 196.25L190.88 195L189.62 198.75L189.62 203.75L192.75 206.88L194.62 211.25L195.88 216.25L196.5 220L199 220.62L202.12 221.25L203.38 222.5L204 225M174 201.88L179 205L184 207.5L187.75 210L191.5 213.12L194.62 217.5L196.5 220M194 194.38L199 194.75L204 196.25L207.12 197.25M206.25 201.5L210.25 200L212.75 199.38M215.88 201.25L217.12 201.62M202.12 203.12L203 203.5M202.12 187.25L202.5 188.75M204.38 187.88L205.25 188.5M204 222.5L207.75 217.5L211.5 215L215.25 216.88L220.25 218.75L224 221.25L227.75 224.38M194 216.25L196.5 220L200.25 221.25L203.38 222.5L202.12 227.5L200.88 233.75L199.62 240L199.62 246.25L200.88 252.5L202.75 258.75L204.62 265L206.5 268.75L209 273.12L210.25 275M203.38 221.88L206.5 218.12L210.25 215.62L212.12 216.88L216.5 217.5L221.5 219.38L226.5 222.5L230.25 225.62L232.75 230L235.25 234.38L237.75 238.75L240.25 241.88L244 243.75L247.75 245L251.5 248.75L255.88 253.75L254 260L252.75 265L250.88 270L249.62 275M206.5 270L208.17 273.33L210.67 276.67L211.5 280L211.17 288.33L210.67 298.33L209.83 306.67L209 313.33L208.67 321.67L208.67 331.67L208.17 340L207.33 341.67L209 345.83L211.5 348.33L214 350M251.5 270L250.67 276.67L249 280.83L246.5 285L242.33 287.5L239 290L238.17 295L236.5 302.5L234.83 305.83L233.17 309.17L229.83 312.5L226.5 315.83L223.17 320L220.67 324.17L218.17 328.33L215.67 333.33L214 336.67L213.17 341.67L212.33 345L214 347.5L215.67 350M225.5 344.17L226.67 344.33M207.75 340L207.12 343.12L209.62 346.88L212.75 350.62L217.5 351.5M213.75 340L212.75 345.62L214.62 348.75L217.5 351.5M225.75 344.38L226.75 344.5M194 389.38L201.5 387.5L206.5 388.12L210.25 389.38L214 387.5L215.88 383.75L216.5 376.25L220.25 371.88L224.62 369.38L226.5 370.62L225.88 373.75L224 376.25L223.38 378.75L223.38 383.75L223.38 391.88L219 394.38L214 395L206.5 396.25L201.5 396.88L196.5 397.5L199 398.75M206.5 385L212.75 380L214 382.5L211.5 386.25L209 386.88L206.5 385M217.75 377.5L220.88 375L224.62 370.62M223.38 392.5L229 395L234 397.5L240.25 398.12L246.5 398.12L252.75 398.12L257.75 397.5L261.5 395.62L266.5 392.5L271.5 390L274 388.75M76.81 399.38L85.25 399.38L96.5 399.38L102.13 398.44M96.5 399.38L99.31 402.19M76.81 412.13L87.13 412.88L94.63 413.44L105.88 414.38L115.25 414.38L111.5 408.75L108.69 403.13L110.56 397.5L117.13 395.25L126.5 393.75L135.88 391.88L141.5 390L149 389.63L156.5 390.94L162.13 393.38L167.75 391.88L173.38 390.94L175.25 389.06L179 389.06L194 389.06M264 395.47L272.75 390L281.5 386.72L290.25 383.44L297.91 380.81L304.47 382.34L314.31 382.34L325.25 382.34L334 382.34L340.56 380.81L347.13 382.34L353.69 377.97L360.25 375.78L365.72 374.69L373.38 376.88L382.13 377.97L386.5 380.16L385.41 382.34L388.69 382.34L395.25 380.16L404 376.44M264 396.56L272.75 391.75L281.5 387.81L290.25 385.63L299 385.63L304.47 383.44M325.25 383.66L331.81 383.66M400 378.23L403.94 375.67L411.81 375.08L421.66 374.69L431.5 374.29L439.37 374.29L445.28 376.07L453.16 374.69L461.03 374.29L468.91 374.69L474.81 375.67L480.72 377.64L488.59 379.61L496.47 381.58L502.37 383.55L507.3 385.52L511.23 386.5L508.28 390.44L505.33 393.39L503.36 397.33L501.39 400.28L504.34 404.22L507.3 408.16L512.22 409.14L518.12 410.52M503.36 397.92L508.28 397.33L514.19 397.33L523.05 399.3M315.25 75.62L321.5 74.75L334.62 74.38M316.75 76.25L317.75 78.75L320.25 81.25L324.62 79.38L329.25 79.38M321.5 76.25L326.5 76.88L328.38 78.12M353.38 74.38L357.75 73.75L362.75 74.38M306.5 116.25L309 111.25L314 106.25L317.75 101.25L321.5 97.5L326.5 95L331.5 94L334.62 93.12L336.5 95L341.5 97.5L346.5 100L350.25 101L352.12 101.25L355.25 100L355.88 98.75L356.5 100.62L360.25 99.38L364 97.5M340.25 102.5L342.75 106.25L346.5 105.62L352.12 105L352.75 103.12L349 102.75L342.75 102.75L340.25 102.5M306.5 116.25L309 118.75L312.75 120L315.25 121.25L317.75 123.12L320.25 121.25L321.5 117.5L322.75 112.5L324 107.5L327.12 105.62L329 104.38L327.75 107.5L328.38 111.25L330.25 115L332.12 116.25L335.25 116.5L331.5 118.75L327.75 121.25L322.75 125L319 127.5L315.25 128.75L312.75 125L310.25 123.12L308.38 125L307.75 130M291.5 118.75L292.75 118.12L295.25 119.38L296.5 122.5L297.75 126.25L299.62 130M289.62 121.25L290.88 125L289 127.5L287.75 130M297.12 113.12L298.38 114.38M289.5 92.25L289.88 92.88M290.25 120.62L292.12 123.75L292.75 125.62L290.88 126.88L288.38 129.38L289 131.88M295 120L296.5 125L298.38 128.75L300.88 133.12L297.75 134L294.62 135M287.12 129.38L289 127.5L290.88 125M311.5 122.5L309 125L307.75 128.75L305.25 132.5L302.75 135L299 136.25L295.25 138.12L296.5 140.62L297.75 144.38L294 146.25L291.5 148.12L289.62 151.25L289 155L290.25 158.75L291.5 163.12L295.88 163.12L299 158.75L300.88 155L302.75 151.88L305.25 150.62L308.38 149.38L311.5 151.25L315.25 153.75L319 156.88L322.12 157.5L324 159.38L326.5 161.25L327.75 162.5L329 157.5L332.12 156.25L334 157.5L335.25 155.62L339 154.38L344 155L347.75 154.38L349 148.75L349.62 142.5L344 144.38L340.25 146.25L337.12 145.62L335.25 150L332.75 155L332.75 157.5L334 160L336.5 163.12L340.25 165L343.38 166.25L342.12 169.38L340.88 172.5L339 175L339.62 180M317.12 147.5L319 150.62L320.88 154.38L322.12 157.5L323.38 156.25L321.5 152.5L319 149.38L317.12 147.5M311.5 122.5L314 125L317.75 127.5L321.5 125L325.25 122.5L329 120.62M315.25 120L317.12 122.5L320.25 123.12L321.5 120.62M310.25 154.38L310.88 156.25M316.5 160.25L318.38 160.62M329 165.62L329.38 166.88M284 180L287.75 172.5L291.5 166.25L295.25 164.38L301.5 163.75L306.5 163.12L311.5 162.5L312.75 166.25L315.25 170L319 172.5L324 175L327.75 172.5L331.5 174.38L335.25 175L337.75 175.62L339 176.25M289.62 170L287.75 173.75L285.25 177.5L283.38 181.25L281.5 185L279.62 190.62L279 197.5L279.25 205L279.62 211.25L281.5 217.5L284 222.5L287.75 226.25L292.75 228.75L296.5 228.12L300.25 227.25L304 228.12L306.5 230M315.25 170L317.75 171.88L321.5 173.75L324.62 176.25L329 172.5L332.75 173.75L336.5 174.38L339 175.62L342.12 177.5M339 176.25L342.12 171.25L342.75 170M294 229.17L299 227.5L304 228.33L309 231.67L311.5 237.5L314 246.67L315.67 255L315.67 265L314.83 275L315.67 281.67L318.17 288.33L319.83 295L321.5 301.67L322 305M360.67 225L357.33 230L354 236.67L350.67 243.33L349 248.33L348.17 255L349 261.67L347.33 268.33L344.83 275L342.33 281.67L340.67 288.33L338.17 295L335.67 301.67L334.83 305M340.33 238.33L341.5 245.33M360.33 264.17L359 269.17L356.5 275L354.33 278.33L354.33 283.33L354.83 289.17L357.33 283.33L359.83 278.33L360.67 271.67L360.33 264.17M319.31 295L320.25 297.5L321.19 301.25L322.12 305.62L323.38 309.38L324 311.25L326.5 310.31L330.25 309.69L332.75 309.06L334 306.25L335.88 303.75L338.38 300.62L339.62 297.5L340.56 295M344 143.75L349 142.5L349.62 147.5L348.38 153.75L344 155.62M360.25 143.75L364 142.5L364.62 147.5L365.25 152.5L366.5 157.5L366.5 160.62L363.38 160L360.25 158.75L359.62 152.5L359 147.5L360.25 143.75M373.38 144.38L375.88 143.12L376.75 145L375.25 146.88L374 149.38L373.38 144.38M391.25 147.25L394 145.62L398.75 143.12M394 152.25L394.38 152.75M361.25 177.75L362.75 179.75M356.5 211.25L360.25 208.75L364 206.25L367.75 203.12L370.88 200L372.12 196.25L372.12 192.5L369 190.62L365.25 188.75L362.75 186.25L362.12 182.5L361.5 178.75M361.5 178.75L364 183.75L367.75 186.25L371.5 187.5L375.25 188.12L379.62 188.75L384 191.88L388.38 196.25L390.25 202.5L392.12 208.75L394 218.75L399 213.75L401.5 206.25L405.25 201.88L409 197.5L411.5 193.75L413.38 196.25L415.88 200.62L419 205L420.25 208.75L421.5 215L422.75 220L424 222.5M399 220L398.38 223.75L399 226.25M363.38 215.62L363.38 216.25L361.5 222.5L359 228.75L358.38 230M417.75 226.25L419 228.75L420.88 230M446.5 160L449.62 161.88L449.62 167.5L450.88 175L449 182.5L447.75 186.25L451.5 186.25L447.12 187.5L442.75 190.62L439 193.12L434.62 193.75L434 197.5L436.5 196.88L433.38 198.75L432.75 205L432.75 211.25L432.12 217.5L429 217.5L426.5 215L424 211.25L423.38 210L422.75 215L423.38 220M404 201.88L407.75 198.75L411.5 193.75L413.38 196.25L416.5 201.25L419.62 206.25L420.88 211.25L421.5 216.25L421.5 220M455.25 160L456.5 162.5L457.12 165.62L459 162.5L460.25 160M464 165.62L466.5 163.75L470.25 161.88L473.38 160M464 165.62L469 166.25L473.38 165L474.62 162.5M460.88 170L462.75 168.75L464.62 168.12L462.12 173.12L460.88 170M450.25 200.62L451.5 200L452.12 203.75L452.5 208.75L450.88 210L450.25 205L450.25 200.62M447.12 216.88L448.38 215.62M455.25 218.12L455.88 220M524 104.69L519.31 109.38L514.62 111.72L509.16 113.28L503.69 114.84L502.12 118.75L500.56 123.44L497.44 128.12L493.53 132.81L493.53 118.75L497.44 113.28L494.31 110.94L491.97 115.62L486.5 116.41L481.81 116.88L477.12 117.5L474 118.75L471.66 123.44L469.31 127.34L471.66 128.91L474 131.25L472.44 140.62L467.75 145.31L463.06 150L460.72 153.91L459.16 159.38L456.81 164.06M456.81 164.06L455.25 159.38L450.56 155.47L445.88 158.59L448.22 160.94L449 165.62L449 173.44L449.78 175M476.03 126.25L476.34 131.25L477.44 140.62L478.38 149.69L475.56 151.56M475.56 151.56L474 156.25L473.69 161.72L470.09 164.38L465.88 165.94L462.75 168.75L461.19 171.56L463.06 173.44L464.94 168.75L470.09 166.88L474 165.31L474.78 159.38M513.06 128.75L513.69 129.38M518.84 131.56L519.31 132.5M364 97.5L374 97L384 94.5L389 92L390.25 97L394 94.5L399 89.5L401.5 88.25L409 84.5L416.5 82L425.25 80.75L429 80L432.75 82L437.75 83.25L434 86.5L439 87L449 87L456.5 88.25L461.5 92L469 91.5L476.5 92L484 92L494 94L504 94.5L514 95.75L524 97M366 92L370.25 88.25L376.5 84.5L384 81M366.5 90L369 93.25M391.5 90.75L394 94.5L396.5 93.25L401.5 94.5M415.25 73.25L419 75L425.25 75.75L426.5 78.25M471 82.5L476.5 83.25L482.75 84M385.25 102L391.5 100.75L395.25 98.25L399 102M376.5 73.25L380.25 72.5M481.5 117L492.75 113.25L496.5 110.75L502.75 111.5L511.5 109.5L519 107L524 104.5M420.25 210L420.88 213.75L422.75 220L424.62 225L425.88 228.75L426.5 230.62M417.12 226.25L420.25 230.62L423.38 235L425.88 240L427.75 243.75L430.88 244.38L429 240L427.12 235L425.25 230L424 225L422.75 217.5L422.12 212.5L422.75 210M423.38 210L425.25 212.5L429 216.88L432.75 216.88L434 210M445.25 224.38L445.88 230L445.25 235L442.75 241.25L440.88 245.62L435.88 240.62L439 234.38L442.12 228.75L445.25 224.38M451.5 224.38L454 218.75L455.25 225L451.5 224.38M447.75 215.62L448.38 217.5M431.5 251.25L434 253.12L436.5 254.38L440.88 254.38L438.38 253.12L434 251.88M462.12 241.88L464 243.75L467.75 247.5L472.75 252.5L479 255.62L486.5 259.38L482.12 252.5L477.75 247.5L475.25 243.5L470.25 243.12L464 242.75M455.25 268.75L460.25 266.88L464.62 261.25L467.75 263.75L470.25 268.75L472.75 266.25L475.25 260.62L477.75 265L479 268.75L479.62 270M444 280L449 277.5L452.75 273.75L455.25 268.75L459 269.38L460.88 266.88L464 261.25L467.75 264.38L469.62 267.5L471.5 272.5L474 266.88L476.5 260.62L478.38 265L480.88 272.5L484 278.75L487.12 286.25L489 292.5L489 298.75L487.75 305L485.25 310L483.38 315M444 306.25L449 307.5L454 305L457.75 303.75L462.12 302.25L465.25 305L469 308.75L472.12 312.5L472.75 315M476.5 255L481.5 257.5L486.5 259.38L484 255M503.38 279.38L503.62 280.62M521.25 273.75L522.75 272.5M514 308.12L515.88 311.25L517.75 314.38M454.39 270L450.95 275.16L445.8 278.59L442.36 282.03L441.5 290.63L442.36 299.22L444.08 306.09L450.95 307.47L456.97 304.38L462.13 302.31L465.56 306.95L470.72 311.25L474.16 316.06L479.31 317.27L482.75 314.69L486.19 310.39L487.91 302.66L488.77 295.78L487.91 290.63L484.47 283.75L481.89 276.88L479.31 270M479.31 321.56L481.03 325L482.75 325.86L480.17 323.28M514.55 308.67L517.13 312.97L518.85 317.27L517.13 318.13L515.41 313.83M513.69 321.56L512.83 325L511.11 327.58L510.25 329.99M330 173.12L333.75 173.75L337.5 175L339.38 176.25L341.25 181.25L343.75 187.5L346.25 196.25L348.75 203.75L351.25 210L352.5 215L357.5 215L362.5 215L363.12 220M333.75 160L336.25 162.5L340 165L343.12 166.25L342.5 169.38L340.62 173.12L339.38 176.25M340 178.75L343.75 183.75L346.25 188.75L348.75 196.25L350.62 202.5L352.5 207.5L355 210L357.5 211.25L362.5 207.5L367.5 203.75L370 201.25M184.89 108.33L189.47 104.89L194.05 102.6L197.49 99.16L199.78 95.73L202.07 94.58L205.51 96.87L208.95 99.16L211.24 101.45L206.66 104.32L204.36 106.04L207.8 106.61L212.38 108.9L215.82 108.9L218.11 107.18L219.26 104.89L216.96 103.17L220.4 102.6L220.4 100.31L218.11 98.02L215.82 96.3L212.38 94.01L208.95 91.72L206.66 90M193.48 108.9L194.63 103.75L198.06 107.75L193.48 108.9M184.89 108.33L182.6 111.76L180.88 116.92L183.75 119.78M170 96.87L174.58 98.02L180.31 101.45L182.6 98.02L180.31 93.44L176.87 91.15M188.33 90L189.47 93.44L192.91 96.87L197.49 98.02" stroke="#40e0d0" stroke-width="1" fill="none" shape-rendering="crispEdges"/>
<rect x="74.5" y="57.5" width="450" height="362" fill="none" stroke="#000" stroke-width="1" shape-rendering="crispEdges"/>
<g shape-rendering="crispEdges"><defs><linearGradient id="cb" x1="0" y1="1" x2="0" y2="0"><stop offset="0.0000" stop-color="#000000"/><stop offset="0.0156" stop-color="#200019"/><stop offset="0.0312" stop-color="#2d0032"/><stop offset="0.0469" stop-color="#37004a"/><stop offset="0.0625" stop-color="#400062"/><stop offset="0.0781" stop-color="#470078"/><stop offset="0.0938" stop-color="#4e008e"/><stop offset="0.1094" stop-color="#5400a2"/><stop offset="0.1250" stop-color="#5a00b4"/><stop offset="0.1406" stop-color="#6001c5"/><stop offset="0.1562" stop-color="#6501d4"/><stop offset="0.1719" stop-color="#6a01e1"/><stop offset="0.1875" stop-color="#6e02ec"/><stop offset="0.2031" stop-color="#7302f4"/><stop offset="0.2188" stop-color="#7703fa"/><stop offset="0.2344" stop-color="#7b03fe"/><stop offset="0.2500" stop-color="#8004ff"/><stop offset="0.2656" stop-color="#8305fe"/><stop offset="0.2812" stop-color="#8706fa"/><stop offset="0.2969" stop-color="#8b07f4"/><stop offset="0.3125" stop-color="#8f08ec"/><stop offset="0.3281" stop-color="#9209e1"/><stop offset="0.3438" stop-color="#960ad4"/><stop offset="0.3594" stop-color="#990cc5"/><stop offset="0.3750" stop-color="#9c0db4"/><stop offset="0.3906" stop-color="#9f0fa2"/><stop offset="0.4062" stop-color="#a3118e"/><stop offset="0.4219" stop-color="#a61378"/><stop offset="0.4375" stop-color="#a91562"/><stop offset="0.4531" stop-color="#ac184a"/><stop offset="0.4688" stop-color="#af1a32"/><stop offset="0.4844" stop-color="#b11d19"/><stop offset="0.5000" stop-color="#b42000"/><stop offset="0.5156" stop-color="#b72300"/><stop offset="0.5312" stop-color="#ba2600"/><stop offset="0.5469" stop-color="#bd2a00"/><stop offset="0.5625" stop-color="#bf2d00"/><stop offset="0.5781" stop-color="#c23100"/><stop offset="0.5938" stop-color="#c43500"/><stop offset="0.6094" stop-color="#c73a00"/><stop offset="0.6250" stop-color="#ca3e00"/><stop offset="0.6406" stop-color="#cc4300"/><stop offset="0.6562" stop-color="#cf4800"/><stop offset="0.6719" stop-color="#d14d00"/><stop offset="0.6875" stop-color="#d35300"/><stop offset="0.7031" stop-color="#d65900"/><stop offset="0.7188" stop-color="#d85f00"/><stop offset="0.7344" stop-color="#db6500"/><stop offset="0.7500" stop-color="#dd6c00"/><stop offset="0.7656" stop-color="#df7200"/><stop offset="0.7812" stop-color="#e17a00"/><stop offset="0.7969" stop-color="#e48100"/><stop offset="0.8125" stop-color="#e68900"/><stop offset="0.8281" stop-color="#e89100"/><stop offset="0.8438" stop-color="#ea9900"/><stop offset="0.8594" stop-color="#eca200"/><stop offset="0.8750" stop-color="#efab00"/><stop offset="0.8906" stop-color="#f1b400"/><stop offset="0.9062" stop-color="#f3be00"/><stop offset="0.9219" stop-color="#f5c800"/><stop offset="0.9375" stop-color="#f7d200"/><stop offset="0.9531" stop-color="#f9dd00"/><stop offset="0.9688" stop-color="#fbe800"/><stop offset="0.9844" stop-color="#fdf300"/><stop offset="1.0000" stop-color="#ffff00"/></linearGradient></defs><rect x="535" y="57" width="23" height="363" fill="url(#cb)"/><rect x="535.5" y="57.5" width="22" height="362" fill="none" stroke="#000" stroke-width="1"/><path d="M536 375.5h4M553 375.5h4M536 320.5h4M553 320.5h4M536 265.5h4M553 265.5h4M536 209.5h4M553 209.5h4M536 154.5h4M553 154.5h4M536 99.5h4M553 99.5h4" stroke="#000" stroke-width="1" fill="none"/></g>
</svg>
<svg xmlns="http://www.w3.org/2000/svg" width="640" height="480" viewBox="0 0 640 480" style="will-change:transform">
<text x="106.9" y="32.5" font-family="Liberation Sans" font-size="16" fill="#000">UQRG-GIM Global VTEC maps 20240906.250.00000</text>
<text x="112.0" y="443" text-anchor="middle" font-family="Liberation Sans" font-size="16" fill="#000">-150</text>
<text x="173.75" y="443" text-anchor="middle" font-family="Liberation Sans" font-size="16" fill="#000">-100</text>
<text x="235.3" y="443" text-anchor="middle" font-family="Liberation Sans" font-size="16" fill="#000">-50</text>
<text x="299.4" y="443" text-anchor="middle" font-family="Liberation Sans" font-size="16" fill="#000">0</text>
<text x="361.0" y="443" text-anchor="middle" font-family="Liberation Sans" font-size="16" fill="#000">50</text>
<text x="422.7" y="443" text-anchor="middle" font-family="Liberation Sans" font-size="16" fill="#000">100</text>
<text x="485.2" y="443" text-anchor="middle" font-family="Liberation Sans" font-size="16" fill="#000">150</text>
<text x="61.2" y="78" text-anchor="end" font-family="Liberation Sans" font-size="16" fill="#000">80</text>
<text x="61.2" y="120" text-anchor="end" font-family="Liberation Sans" font-size="16" fill="#000">60</text>
<text x="61.2" y="161" text-anchor="end" font-family="Liberation Sans" font-size="16" fill="#000">40</text>
<text x="61.2" y="202" text-anchor="end" font-family="Liberation Sans" font-size="16" fill="#000">20</text>
<text x="61.2" y="243" text-anchor="end" font-family="Liberation Sans" font-size="16" fill="#000">0</text>
<text x="61.2" y="284" text-anchor="end" font-family="Liberation Sans" font-size="16" fill="#000">-20</text>
<text x="61.2" y="325" text-anchor="end" font-family="Liberation Sans" font-size="16" fill="#000">-40</text>
<text x="61.2" y="366" text-anchor="end" font-family="Liberation Sans" font-size="16" fill="#000">-60</text>
<text x="61.2" y="408" text-anchor="end" font-family="Liberation Sans" font-size="16" fill="#000">-80</text>
<text x="570.5" y="104" font-family="Liberation Sans" font-size="16" fill="#000">120</text>
<text x="570.5" y="159" font-family="Liberation Sans" font-size="16" fill="#000">100</text>
<text x="570.5" y="214" font-family="Liberation Sans" font-size="16" fill="#000">80</text>
<text x="570.5" y="270" font-family="Liberation Sans" font-size="16" fill="#000">60</text>
<text x="570.5" y="325" font-family="Liberation Sans" font-size="16" fill="#000">40</text>
<text x="570.5" y="380" font-family="Liberation Sans" font-size="16" fill="#000">20</text>
<text x="297.5" y="471" text-anchor="middle" textLength="112" font-family="Liberation Sans" font-size="16" fill="#000">Longitude / deg</text>
<text transform="translate(18.5,239) rotate(-90)" text-anchor="middle" textLength="98.6" font-family="Liberation Sans" font-size="16" fill="#000">Latitude / deg</text>
<text transform="translate(616,239.75) rotate(-90)" text-anchor="middle" textLength="100.8" font-family="Liberation Sans" font-size="16" fill="#000">VTEC / TECU</text>
</svg></body></html>
